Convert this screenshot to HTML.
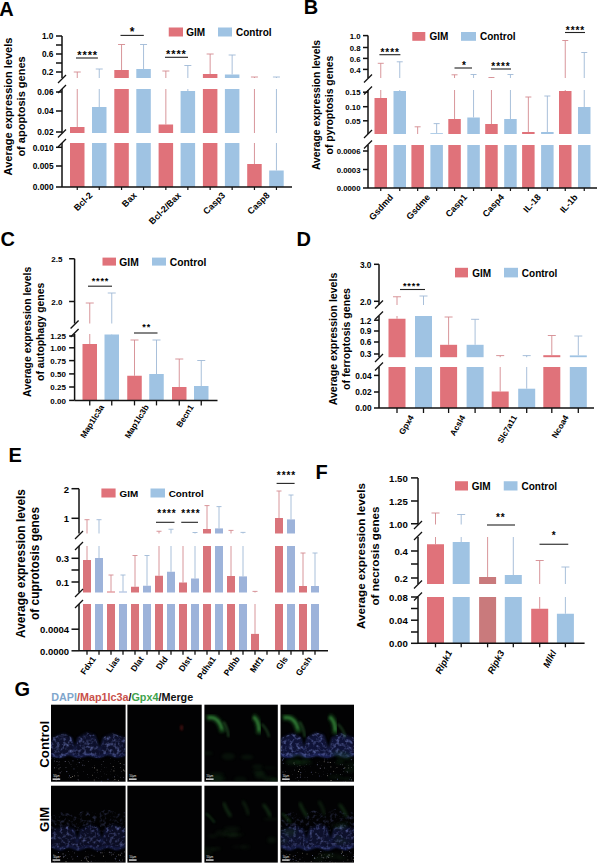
<!DOCTYPE html>
<html><head><meta charset="utf-8"><title>Figure</title>
<style>
html,body{margin:0;padding:0;background:#fff;}
svg{display:block;}
text{font-family:'Liberation Sans', Arial, sans-serif;}
</style></head>
<body>
<svg width="600" height="864" viewBox="0 0 600 864">
<rect width="600" height="864" fill="#fff"/>
<text x="-0.80" y="15.60" font-size="20" text-anchor="start" font-weight="bold" fill="#000" >A</text>
<line x1="77.25" y1="127.00" x2="77.25" y2="72.00" stroke="#d48a90" stroke-width="0.9" />
<line x1="73.75" y1="72.00" x2="80.75" y2="72.00" stroke="#d48a90" stroke-width="0.9" />
<line x1="99.25" y1="107.00" x2="99.25" y2="69.00" stroke="#9fb9d6" stroke-width="0.9" />
<line x1="95.75" y1="69.00" x2="102.75" y2="69.00" stroke="#9fb9d6" stroke-width="0.9" />
<rect x="70.00" y="127.00" width="14.50" height="60.00" fill="#e0727a" />
<rect x="92.00" y="107.00" width="14.50" height="80.00" fill="#9fc3e3" />
<line x1="121.55" y1="70.00" x2="121.55" y2="44.50" stroke="#d48a90" stroke-width="0.9" />
<line x1="118.05" y1="44.50" x2="125.05" y2="44.50" stroke="#d48a90" stroke-width="0.9" />
<line x1="143.55" y1="69.00" x2="143.55" y2="44.50" stroke="#9fb9d6" stroke-width="0.9" />
<line x1="140.05" y1="44.50" x2="147.05" y2="44.50" stroke="#9fb9d6" stroke-width="0.9" />
<rect x="114.30" y="70.00" width="14.50" height="117.00" fill="#e0727a" />
<rect x="136.30" y="69.00" width="14.50" height="118.00" fill="#9fc3e3" />
<line x1="165.85" y1="124.50" x2="165.85" y2="71.00" stroke="#d48a90" stroke-width="0.9" />
<line x1="162.35" y1="71.00" x2="169.35" y2="71.00" stroke="#d48a90" stroke-width="0.9" />
<line x1="187.85" y1="91.00" x2="187.85" y2="65.50" stroke="#9fb9d6" stroke-width="0.9" />
<line x1="184.35" y1="65.50" x2="191.35" y2="65.50" stroke="#9fb9d6" stroke-width="0.9" />
<rect x="158.60" y="124.50" width="14.50" height="62.50" fill="#e0727a" />
<rect x="180.60" y="91.00" width="14.50" height="96.00" fill="#9fc3e3" />
<line x1="210.15" y1="74.00" x2="210.15" y2="54.00" stroke="#d48a90" stroke-width="0.9" />
<line x1="206.65" y1="54.00" x2="213.65" y2="54.00" stroke="#d48a90" stroke-width="0.9" />
<line x1="232.15" y1="74.50" x2="232.15" y2="55.00" stroke="#9fb9d6" stroke-width="0.9" />
<line x1="228.65" y1="55.00" x2="235.65" y2="55.00" stroke="#9fb9d6" stroke-width="0.9" />
<rect x="202.90" y="74.00" width="14.50" height="113.00" fill="#e0727a" />
<rect x="224.90" y="74.50" width="14.50" height="112.50" fill="#9fc3e3" />
<line x1="254.45" y1="164.00" x2="254.45" y2="77.00" stroke="#d48a90" stroke-width="0.9" />
<line x1="250.95" y1="77.00" x2="257.95" y2="77.00" stroke="#d48a90" stroke-width="0.9" />
<line x1="276.45" y1="170.50" x2="276.45" y2="77.00" stroke="#9fb9d6" stroke-width="0.9" />
<line x1="272.95" y1="77.00" x2="279.95" y2="77.00" stroke="#9fb9d6" stroke-width="0.9" />
<rect x="247.20" y="164.00" width="14.50" height="23.00" fill="#e0727a" />
<rect x="269.20" y="170.50" width="14.50" height="16.50" fill="#9fc3e3" />
<rect x="63.00" y="78.00" width="237.00" height="11.00" fill="#fff" />
<rect x="63.00" y="133.00" width="237.00" height="10.00" fill="#fff" />
<line x1="62.00" y1="36.00" x2="62.00" y2="78.00" stroke="#111" stroke-width="1.5" />
<line x1="62.00" y1="89.00" x2="62.00" y2="133.00" stroke="#111" stroke-width="1.5" />
<line x1="62.00" y1="143.00" x2="62.00" y2="187.00" stroke="#111" stroke-width="1.5" />
<line x1="56.00" y1="36.00" x2="62.00" y2="36.00" stroke="#111" stroke-width="1.5" />
<text x="53.50" y="39.40" font-size="8.3" text-anchor="end" font-weight="bold" fill="#000" >1.0</text>
<line x1="56.00" y1="45.00" x2="62.00" y2="45.00" stroke="#111" stroke-width="1.5" />
<line x1="56.00" y1="54.00" x2="62.00" y2="54.00" stroke="#111" stroke-width="1.5" />
<text x="53.50" y="57.40" font-size="8.3" text-anchor="end" font-weight="bold" fill="#000" >0.6</text>
<line x1="56.00" y1="63.00" x2="62.00" y2="63.00" stroke="#111" stroke-width="1.5" />
<line x1="56.00" y1="72.00" x2="62.00" y2="72.00" stroke="#111" stroke-width="1.5" />
<text x="53.50" y="75.40" font-size="8.3" text-anchor="end" font-weight="bold" fill="#000" >0.2</text>
<line x1="56.00" y1="92.00" x2="62.00" y2="92.00" stroke="#111" stroke-width="1.5" />
<text x="53.50" y="95.40" font-size="8.3" text-anchor="end" font-weight="bold" fill="#000" >0.06</text>
<line x1="56.00" y1="111.00" x2="62.00" y2="111.00" stroke="#111" stroke-width="1.5" />
<text x="53.50" y="114.40" font-size="8.3" text-anchor="end" font-weight="bold" fill="#000" >0.04</text>
<line x1="56.00" y1="132.00" x2="62.00" y2="132.00" stroke="#111" stroke-width="1.5" />
<text x="53.50" y="135.40" font-size="8.3" text-anchor="end" font-weight="bold" fill="#000" >0.02</text>
<line x1="56.00" y1="147.30" x2="62.00" y2="147.30" stroke="#111" stroke-width="1.5" />
<text x="53.50" y="150.70" font-size="8.3" text-anchor="end" font-weight="bold" fill="#000" >0.010</text>
<line x1="56.00" y1="166.00" x2="62.00" y2="166.00" stroke="#111" stroke-width="1.5" />
<text x="53.50" y="169.40" font-size="8.3" text-anchor="end" font-weight="bold" fill="#000" >0.005</text>
<line x1="56.00" y1="187.00" x2="62.00" y2="187.00" stroke="#111" stroke-width="1.5" />
<text x="53.50" y="190.40" font-size="8.3" text-anchor="end" font-weight="bold" fill="#000" >0.000</text>
<line x1="58.00" y1="83.00" x2="66.00" y2="75.00" stroke="#111" stroke-width="1.3" />
<line x1="58.00" y1="93.00" x2="66.00" y2="85.00" stroke="#111" stroke-width="1.3" />
<line x1="58.00" y1="137.50" x2="66.00" y2="129.50" stroke="#111" stroke-width="1.3" />
<line x1="58.00" y1="147.00" x2="66.00" y2="139.00" stroke="#111" stroke-width="1.3" />
<line x1="62.00" y1="187.00" x2="292.00" y2="187.00" stroke="#111" stroke-width="1.5" />
<line x1="77.25" y1="187.00" x2="77.25" y2="190.00" stroke="#111" stroke-width="1.2" />
<line x1="99.25" y1="187.00" x2="99.25" y2="190.00" stroke="#111" stroke-width="1.2" />
<line x1="121.55" y1="187.00" x2="121.55" y2="190.00" stroke="#111" stroke-width="1.2" />
<line x1="143.55" y1="187.00" x2="143.55" y2="190.00" stroke="#111" stroke-width="1.2" />
<line x1="165.85" y1="187.00" x2="165.85" y2="190.00" stroke="#111" stroke-width="1.2" />
<line x1="187.85" y1="187.00" x2="187.85" y2="190.00" stroke="#111" stroke-width="1.2" />
<line x1="210.15" y1="187.00" x2="210.15" y2="190.00" stroke="#111" stroke-width="1.2" />
<line x1="232.15" y1="187.00" x2="232.15" y2="190.00" stroke="#111" stroke-width="1.2" />
<line x1="254.45" y1="187.00" x2="254.45" y2="190.00" stroke="#111" stroke-width="1.2" />
<line x1="276.45" y1="187.00" x2="276.45" y2="190.00" stroke="#111" stroke-width="1.2" />
<text x="87.70" y="59.28" font-size="11" text-anchor="middle" font-weight="bold" fill="#000" letter-spacing="0.9">****</text>
<line x1="76.00" y1="58.00" x2="97.90" y2="58.00" stroke="#222" stroke-width="1.1" />
<text x="132.45" y="36.16" font-size="12" text-anchor="middle" font-weight="bold" fill="#000" letter-spacing="0.9">*</text>
<line x1="120.50" y1="35.40" x2="143.80" y2="35.40" stroke="#222" stroke-width="1.1" />
<text x="176.45" y="58.48" font-size="11" text-anchor="middle" font-weight="bold" fill="#000" letter-spacing="0.9">****</text>
<line x1="165.00" y1="57.30" x2="188.00" y2="57.30" stroke="#222" stroke-width="1.1" />
<rect x="168.75" y="27.50" width="14.25" height="9.00" fill="#e0727a" />
<text x="186.20" y="36.20" font-size="10" text-anchor="start" font-weight="bold" fill="#000" >GIM</text>
<rect x="218.00" y="27.50" width="14.00" height="9.00" fill="#9fc3e3" />
<text x="236.00" y="36.20" font-size="10" text-anchor="start" font-weight="bold" fill="#000" >Control</text>
<text x="12.30" y="106.50" font-size="11" text-anchor="middle" font-weight="bold" fill="#000" transform="rotate(-90 12.30 106.50)" >Average expression levels</text>
<text x="25.30" y="106.50" font-size="11" text-anchor="middle" font-weight="bold" fill="#000" transform="rotate(-90 25.30 106.50)" >of apoptosis genes</text>
<text x="93.00" y="196.00" font-size="9" text-anchor="end" font-weight="bold" fill="#000" transform="rotate(-45 93.00 196.00)" >Bcl-2</text>
<text x="137.30" y="196.00" font-size="9" text-anchor="end" font-weight="bold" fill="#000" transform="rotate(-45 137.30 196.00)" >Bax</text>
<text x="181.60" y="196.00" font-size="9" text-anchor="end" font-weight="bold" fill="#000" transform="rotate(-45 181.60 196.00)" >Bcl-2/Bax</text>
<text x="225.90" y="196.00" font-size="9" text-anchor="end" font-weight="bold" fill="#000" transform="rotate(-45 225.90 196.00)" >Casp3</text>
<text x="270.20" y="196.00" font-size="9" text-anchor="end" font-weight="bold" fill="#000" transform="rotate(-45 270.20 196.00)" >Casp8</text>
<text x="303.80" y="14.20" font-size="20" text-anchor="start" font-weight="bold" fill="#000" >B</text>
<line x1="380.75" y1="98.00" x2="380.75" y2="63.30" stroke="#d48a90" stroke-width="0.9" />
<line x1="377.75" y1="63.30" x2="383.75" y2="63.30" stroke="#d48a90" stroke-width="0.9" />
<line x1="399.75" y1="91.00" x2="399.75" y2="61.80" stroke="#9fb9d6" stroke-width="0.9" />
<line x1="396.75" y1="61.80" x2="402.75" y2="61.80" stroke="#9fb9d6" stroke-width="0.9" />
<rect x="374.50" y="98.00" width="12.50" height="90.00" fill="#e0727a" />
<rect x="393.50" y="91.00" width="12.50" height="97.00" fill="#9fc3e3" />
<line x1="417.65" y1="134.00" x2="417.65" y2="126.80" stroke="#d48a90" stroke-width="0.9" />
<line x1="414.65" y1="126.80" x2="420.65" y2="126.80" stroke="#d48a90" stroke-width="0.9" />
<line x1="436.65" y1="133.20" x2="436.65" y2="123.60" stroke="#9fb9d6" stroke-width="0.9" />
<line x1="433.65" y1="123.60" x2="439.65" y2="123.60" stroke="#9fb9d6" stroke-width="0.9" />
<rect x="411.40" y="134.00" width="12.50" height="54.00" fill="#e0727a" />
<rect x="430.40" y="133.20" width="12.50" height="54.80" fill="#9fc3e3" />
<line x1="454.55" y1="119.00" x2="454.55" y2="74.80" stroke="#d48a90" stroke-width="0.9" />
<line x1="451.55" y1="74.80" x2="457.55" y2="74.80" stroke="#d48a90" stroke-width="0.9" />
<line x1="473.55" y1="117.50" x2="473.55" y2="74.50" stroke="#9fb9d6" stroke-width="0.9" />
<line x1="470.55" y1="74.50" x2="476.55" y2="74.50" stroke="#9fb9d6" stroke-width="0.9" />
<rect x="448.30" y="119.00" width="12.50" height="69.00" fill="#e0727a" />
<rect x="467.30" y="117.50" width="12.50" height="70.50" fill="#9fc3e3" />
<line x1="491.45" y1="124.00" x2="491.45" y2="77.50" stroke="#d48a90" stroke-width="0.9" />
<line x1="488.45" y1="77.50" x2="494.45" y2="77.50" stroke="#d48a90" stroke-width="0.9" />
<line x1="510.45" y1="119.00" x2="510.45" y2="74.50" stroke="#9fb9d6" stroke-width="0.9" />
<line x1="507.45" y1="74.50" x2="513.45" y2="74.50" stroke="#9fb9d6" stroke-width="0.9" />
<rect x="485.20" y="124.00" width="12.50" height="64.00" fill="#e0727a" />
<rect x="504.20" y="119.00" width="12.50" height="69.00" fill="#9fc3e3" />
<line x1="528.35" y1="132.00" x2="528.35" y2="97.00" stroke="#d48a90" stroke-width="0.9" />
<line x1="525.35" y1="97.00" x2="531.35" y2="97.00" stroke="#d48a90" stroke-width="0.9" />
<line x1="547.35" y1="132.00" x2="547.35" y2="96.00" stroke="#9fb9d6" stroke-width="0.9" />
<line x1="544.35" y1="96.00" x2="550.35" y2="96.00" stroke="#9fb9d6" stroke-width="0.9" />
<rect x="522.10" y="132.00" width="12.50" height="56.00" fill="#e0727a" />
<rect x="541.10" y="132.00" width="12.50" height="56.00" fill="#9fc3e3" />
<line x1="565.25" y1="91.00" x2="565.25" y2="40.50" stroke="#d48a90" stroke-width="0.9" />
<line x1="562.25" y1="40.50" x2="568.25" y2="40.50" stroke="#d48a90" stroke-width="0.9" />
<line x1="584.25" y1="107.00" x2="584.25" y2="52.50" stroke="#9fb9d6" stroke-width="0.9" />
<line x1="581.25" y1="52.50" x2="587.25" y2="52.50" stroke="#9fb9d6" stroke-width="0.9" />
<rect x="559.00" y="91.00" width="12.50" height="97.00" fill="#e0727a" />
<rect x="578.00" y="107.00" width="12.50" height="81.00" fill="#9fc3e3" />
<rect x="369.00" y="78.00" width="231.00" height="12.00" fill="#fff" />
<rect x="369.00" y="134.00" width="231.00" height="11.00" fill="#fff" />
<line x1="368.00" y1="35.60" x2="368.00" y2="78.00" stroke="#111" stroke-width="1.5" />
<line x1="368.00" y1="90.00" x2="368.00" y2="134.00" stroke="#111" stroke-width="1.5" />
<line x1="368.00" y1="145.00" x2="368.00" y2="188.00" stroke="#111" stroke-width="1.5" />
<line x1="363.00" y1="35.60" x2="368.00" y2="35.60" stroke="#111" stroke-width="1.5" />
<text x="360.50" y="38.80" font-size="7.8" text-anchor="end" font-weight="bold" fill="#000" >1.0</text>
<line x1="363.00" y1="47.50" x2="368.00" y2="47.50" stroke="#111" stroke-width="1.5" />
<text x="360.50" y="50.70" font-size="7.8" text-anchor="end" font-weight="bold" fill="#000" >0.8</text>
<line x1="363.00" y1="58.40" x2="368.00" y2="58.40" stroke="#111" stroke-width="1.5" />
<text x="360.50" y="61.60" font-size="7.8" text-anchor="end" font-weight="bold" fill="#000" >0.6</text>
<line x1="363.00" y1="69.40" x2="368.00" y2="69.40" stroke="#111" stroke-width="1.5" />
<text x="360.50" y="72.60" font-size="7.8" text-anchor="end" font-weight="bold" fill="#000" >0.4</text>
<line x1="363.00" y1="92.20" x2="368.00" y2="92.20" stroke="#111" stroke-width="1.5" />
<text x="360.50" y="95.40" font-size="7.8" text-anchor="end" font-weight="bold" fill="#000" >0.15</text>
<line x1="363.00" y1="106.70" x2="368.00" y2="106.70" stroke="#111" stroke-width="1.5" />
<text x="360.50" y="109.90" font-size="7.8" text-anchor="end" font-weight="bold" fill="#000" >0.10</text>
<line x1="363.00" y1="120.80" x2="368.00" y2="120.80" stroke="#111" stroke-width="1.5" />
<text x="360.50" y="124.00" font-size="7.8" text-anchor="end" font-weight="bold" fill="#000" >0.05</text>
<line x1="363.00" y1="151.00" x2="368.00" y2="151.00" stroke="#111" stroke-width="1.5" />
<text x="360.50" y="154.20" font-size="7.8" text-anchor="end" font-weight="bold" fill="#000" >0.0006</text>
<line x1="363.00" y1="169.50" x2="368.00" y2="169.50" stroke="#111" stroke-width="1.5" />
<text x="360.50" y="172.70" font-size="7.8" text-anchor="end" font-weight="bold" fill="#000" >0.0003</text>
<line x1="363.00" y1="188.00" x2="368.00" y2="188.00" stroke="#111" stroke-width="1.5" />
<text x="360.50" y="191.20" font-size="7.8" text-anchor="end" font-weight="bold" fill="#000" >0.0000</text>
<line x1="364.00" y1="82.50" x2="372.00" y2="74.50" stroke="#111" stroke-width="1.3" />
<line x1="364.00" y1="94.50" x2="372.00" y2="86.50" stroke="#111" stroke-width="1.3" />
<line x1="364.00" y1="138.00" x2="372.00" y2="130.00" stroke="#111" stroke-width="1.3" />
<line x1="364.00" y1="148.50" x2="372.00" y2="140.50" stroke="#111" stroke-width="1.3" />
<line x1="368.00" y1="188.00" x2="597.00" y2="188.00" stroke="#111" stroke-width="1.5" />
<line x1="380.75" y1="188.00" x2="380.75" y2="191.00" stroke="#111" stroke-width="1.2" />
<line x1="399.75" y1="188.00" x2="399.75" y2="191.00" stroke="#111" stroke-width="1.2" />
<line x1="417.65" y1="188.00" x2="417.65" y2="191.00" stroke="#111" stroke-width="1.2" />
<line x1="436.65" y1="188.00" x2="436.65" y2="191.00" stroke="#111" stroke-width="1.2" />
<line x1="454.55" y1="188.00" x2="454.55" y2="191.00" stroke="#111" stroke-width="1.2" />
<line x1="473.55" y1="188.00" x2="473.55" y2="191.00" stroke="#111" stroke-width="1.2" />
<line x1="491.45" y1="188.00" x2="491.45" y2="191.00" stroke="#111" stroke-width="1.2" />
<line x1="510.45" y1="188.00" x2="510.45" y2="191.00" stroke="#111" stroke-width="1.2" />
<line x1="528.35" y1="188.00" x2="528.35" y2="191.00" stroke="#111" stroke-width="1.2" />
<line x1="547.35" y1="188.00" x2="547.35" y2="191.00" stroke="#111" stroke-width="1.2" />
<line x1="565.25" y1="188.00" x2="565.25" y2="191.00" stroke="#111" stroke-width="1.2" />
<line x1="584.25" y1="188.00" x2="584.25" y2="191.00" stroke="#111" stroke-width="1.2" />
<text x="390.15" y="56.20" font-size="10" text-anchor="middle" font-weight="bold" fill="#000" letter-spacing="0.9">****</text>
<line x1="379.40" y1="54.70" x2="400.40" y2="54.70" stroke="#222" stroke-width="1.1" />
<text x="464.45" y="68.80" font-size="10" text-anchor="middle" font-weight="bold" fill="#000" letter-spacing="0.9">*</text>
<line x1="454.50" y1="68.00" x2="472.00" y2="68.00" stroke="#222" stroke-width="1.1" />
<text x="500.95" y="70.30" font-size="10" text-anchor="middle" font-weight="bold" fill="#000" letter-spacing="0.9">****</text>
<line x1="491.00" y1="69.00" x2="511.00" y2="69.00" stroke="#222" stroke-width="1.1" />
<text x="575.45" y="33.80" font-size="10" text-anchor="middle" font-weight="bold" fill="#000" letter-spacing="0.9">****</text>
<line x1="565.00" y1="32.50" x2="585.00" y2="32.50" stroke="#222" stroke-width="1.1" />
<rect x="412.30" y="32.00" width="13.00" height="8.80" fill="#e0727a" />
<text x="429.50" y="40.00" font-size="10" text-anchor="start" font-weight="bold" fill="#000" >GIM</text>
<rect x="461.00" y="32.00" width="15.00" height="8.80" fill="#9fc3e3" />
<text x="480.00" y="40.00" font-size="10" text-anchor="start" font-weight="bold" fill="#000" >Control</text>
<text x="319.50" y="105.00" font-size="10.4" text-anchor="middle" font-weight="bold" fill="#000" transform="rotate(-90 319.50 105.00)" >Average expression levels</text>
<text x="332.50" y="105.00" font-size="10.4" text-anchor="middle" font-weight="bold" fill="#000" transform="rotate(-90 332.50 105.00)" >of pyroptosis genes</text>
<text x="393.80" y="197.60" font-size="9" text-anchor="end" font-weight="bold" fill="#000" transform="rotate(-48 393.80 197.60)" >Gsdmd</text>
<text x="430.70" y="197.60" font-size="9" text-anchor="end" font-weight="bold" fill="#000" transform="rotate(-48 430.70 197.60)" >Gsdme</text>
<text x="467.60" y="197.60" font-size="9" text-anchor="end" font-weight="bold" fill="#000" transform="rotate(-48 467.60 197.60)" >Casp1</text>
<text x="504.50" y="197.60" font-size="9" text-anchor="end" font-weight="bold" fill="#000" transform="rotate(-48 504.50 197.60)" >Casp4</text>
<text x="541.40" y="197.60" font-size="9" text-anchor="end" font-weight="bold" fill="#000" transform="rotate(-48 541.40 197.60)" >IL-18</text>
<text x="578.30" y="197.60" font-size="9" text-anchor="end" font-weight="bold" fill="#000" transform="rotate(-48 578.30 197.60)" >IL-1b</text>
<text x="0.50" y="245.50" font-size="20" text-anchor="start" font-weight="bold" fill="#000" >C</text>
<line x1="89.75" y1="344.00" x2="89.75" y2="303.00" stroke="#d48a90" stroke-width="0.9" />
<line x1="85.75" y1="303.00" x2="93.75" y2="303.00" stroke="#d48a90" stroke-width="0.9" />
<line x1="111.75" y1="334.50" x2="111.75" y2="293.00" stroke="#9fb9d6" stroke-width="0.9" />
<line x1="107.75" y1="293.00" x2="115.75" y2="293.00" stroke="#9fb9d6" stroke-width="0.9" />
<rect x="82.50" y="344.00" width="14.50" height="56.40" fill="#e0727a" />
<rect x="104.50" y="334.50" width="14.50" height="65.90" fill="#9fc3e3" />
<line x1="134.50" y1="375.75" x2="134.50" y2="340.00" stroke="#d48a90" stroke-width="0.9" />
<line x1="130.50" y1="340.00" x2="138.50" y2="340.00" stroke="#d48a90" stroke-width="0.9" />
<line x1="156.50" y1="374.00" x2="156.50" y2="340.00" stroke="#9fb9d6" stroke-width="0.9" />
<line x1="152.50" y1="340.00" x2="160.50" y2="340.00" stroke="#9fb9d6" stroke-width="0.9" />
<rect x="127.25" y="375.75" width="14.50" height="24.65" fill="#e0727a" />
<rect x="149.25" y="374.00" width="14.50" height="26.40" fill="#9fc3e3" />
<line x1="179.25" y1="387.00" x2="179.25" y2="359.00" stroke="#d48a90" stroke-width="0.9" />
<line x1="175.25" y1="359.00" x2="183.25" y2="359.00" stroke="#d48a90" stroke-width="0.9" />
<line x1="201.25" y1="386.00" x2="201.25" y2="360.50" stroke="#9fb9d6" stroke-width="0.9" />
<line x1="197.25" y1="360.50" x2="205.25" y2="360.50" stroke="#9fb9d6" stroke-width="0.9" />
<rect x="172.00" y="387.00" width="14.50" height="13.40" fill="#e0727a" />
<rect x="194.00" y="386.00" width="14.50" height="14.40" fill="#9fc3e3" />
<rect x="75.60" y="323.50" width="154.40" height="10.50" fill="#fff" />
<line x1="74.60" y1="258.75" x2="74.60" y2="323.50" stroke="#111" stroke-width="1.5" />
<line x1="74.60" y1="334.00" x2="74.60" y2="400.40" stroke="#111" stroke-width="1.5" />
<line x1="69.10" y1="258.75" x2="74.60" y2="258.75" stroke="#111" stroke-width="1.5" />
<text x="62.40" y="262.03" font-size="8.0" text-anchor="end" font-weight="bold" fill="#000" >2.5</text>
<line x1="69.10" y1="301.50" x2="74.60" y2="301.50" stroke="#111" stroke-width="1.5" />
<text x="62.40" y="304.78" font-size="8.0" text-anchor="end" font-weight="bold" fill="#000" >2.0</text>
<line x1="69.10" y1="336.00" x2="74.60" y2="336.00" stroke="#111" stroke-width="1.5" />
<text x="65.90" y="339.28" font-size="8.0" text-anchor="end" font-weight="bold" fill="#000" >1.25</text>
<line x1="69.10" y1="347.80" x2="74.60" y2="347.80" stroke="#111" stroke-width="1.5" />
<text x="65.90" y="351.08" font-size="8.0" text-anchor="end" font-weight="bold" fill="#000" >1.00</text>
<line x1="69.10" y1="360.60" x2="74.60" y2="360.60" stroke="#111" stroke-width="1.5" />
<text x="65.90" y="363.88" font-size="8.0" text-anchor="end" font-weight="bold" fill="#000" >0.75</text>
<line x1="69.10" y1="373.90" x2="74.60" y2="373.90" stroke="#111" stroke-width="1.5" />
<text x="65.90" y="377.18" font-size="8.0" text-anchor="end" font-weight="bold" fill="#000" >0.50</text>
<line x1="69.10" y1="387.00" x2="74.60" y2="387.00" stroke="#111" stroke-width="1.5" />
<text x="65.90" y="390.28" font-size="8.0" text-anchor="end" font-weight="bold" fill="#000" >0.25</text>
<line x1="69.10" y1="400.40" x2="74.60" y2="400.40" stroke="#111" stroke-width="1.5" />
<text x="65.90" y="403.68" font-size="8.0" text-anchor="end" font-weight="bold" fill="#000" >0.00</text>
<line x1="70.60" y1="328.50" x2="78.60" y2="320.50" stroke="#111" stroke-width="1.3" />
<line x1="70.60" y1="337.00" x2="78.60" y2="329.00" stroke="#111" stroke-width="1.3" />
<line x1="74.60" y1="400.40" x2="217.50" y2="400.40" stroke="#111" stroke-width="1.5" />
<line x1="89.75" y1="400.40" x2="89.75" y2="405.40" stroke="#111" stroke-width="1.3" />
<line x1="111.75" y1="400.40" x2="111.75" y2="405.40" stroke="#111" stroke-width="1.3" />
<line x1="134.50" y1="400.40" x2="134.50" y2="405.40" stroke="#111" stroke-width="1.3" />
<line x1="156.50" y1="400.40" x2="156.50" y2="405.40" stroke="#111" stroke-width="1.3" />
<line x1="179.25" y1="400.40" x2="179.25" y2="405.40" stroke="#111" stroke-width="1.3" />
<line x1="201.25" y1="400.40" x2="201.25" y2="405.40" stroke="#111" stroke-width="1.3" />
<text x="100.45" y="284.12" font-size="9" text-anchor="middle" font-weight="bold" fill="#000" letter-spacing="0.9">****</text>
<line x1="88.00" y1="286.20" x2="112.00" y2="286.20" stroke="#222" stroke-width="1.1" />
<text x="146.75" y="329.82" font-size="9" text-anchor="middle" font-weight="bold" fill="#000" letter-spacing="0.9">**</text>
<line x1="134.00" y1="333.00" x2="157.50" y2="333.00" stroke="#222" stroke-width="1.1" />
<rect x="102.50" y="257.60" width="13.50" height="8.00" fill="#e0727a" />
<text x="119.30" y="265.90" font-size="10.3" text-anchor="start" font-weight="bold" fill="#000" >GIM</text>
<rect x="152.00" y="257.60" width="14.00" height="8.00" fill="#9fc3e3" />
<text x="169.80" y="265.90" font-size="10.3" text-anchor="start" font-weight="bold" fill="#000" >Control</text>
<text x="31.00" y="331.80" font-size="10.4" text-anchor="middle" font-weight="bold" fill="#000" transform="rotate(-90 31.00 331.80)" >Average expression levels</text>
<text x="44.50" y="331.80" font-size="10.4" text-anchor="middle" font-weight="bold" fill="#000" transform="rotate(-90 44.50 331.80)" >of autophagy genes</text>
<text x="104.50" y="407.00" font-size="8.3" text-anchor="end" font-weight="bold" fill="#000" transform="rotate(-58 104.50 407.00)" >Map1lc3a</text>
<text x="149.25" y="407.00" font-size="8.3" text-anchor="end" font-weight="bold" fill="#000" transform="rotate(-58 149.25 407.00)" >Map1lc3b</text>
<text x="194.00" y="407.00" font-size="8.3" text-anchor="end" font-weight="bold" fill="#000" transform="rotate(-58 194.00 407.00)" >Becn1</text>
<text x="296.50" y="245.70" font-size="20" text-anchor="start" font-weight="bold" fill="#000" >D</text>
<line x1="397.00" y1="318.75" x2="397.00" y2="296.75" stroke="#d48a90" stroke-width="0.9" />
<line x1="393.00" y1="296.75" x2="401.00" y2="296.75" stroke="#d48a90" stroke-width="0.9" />
<line x1="423.50" y1="316.00" x2="423.50" y2="296.00" stroke="#9fb9d6" stroke-width="0.9" />
<line x1="419.50" y1="296.00" x2="427.50" y2="296.00" stroke="#9fb9d6" stroke-width="0.9" />
<rect x="388.50" y="318.75" width="17.00" height="89.25" fill="#e0727a" />
<rect x="415.00" y="316.00" width="17.00" height="92.00" fill="#9fc3e3" />
<line x1="448.60" y1="344.80" x2="448.60" y2="317.00" stroke="#d48a90" stroke-width="0.9" />
<line x1="444.60" y1="317.00" x2="452.60" y2="317.00" stroke="#d48a90" stroke-width="0.9" />
<line x1="475.10" y1="344.80" x2="475.10" y2="319.30" stroke="#9fb9d6" stroke-width="0.9" />
<line x1="471.10" y1="319.30" x2="479.10" y2="319.30" stroke="#9fb9d6" stroke-width="0.9" />
<rect x="440.10" y="344.80" width="17.00" height="63.20" fill="#e0727a" />
<rect x="466.60" y="344.80" width="17.00" height="63.20" fill="#9fc3e3" />
<line x1="500.20" y1="391.50" x2="500.20" y2="355.60" stroke="#d48a90" stroke-width="0.9" />
<line x1="496.20" y1="355.60" x2="504.20" y2="355.60" stroke="#d48a90" stroke-width="0.9" />
<line x1="526.70" y1="388.70" x2="526.70" y2="355.60" stroke="#9fb9d6" stroke-width="0.9" />
<line x1="522.70" y1="355.60" x2="530.70" y2="355.60" stroke="#9fb9d6" stroke-width="0.9" />
<rect x="491.70" y="391.50" width="17.00" height="16.50" fill="#e0727a" />
<rect x="518.20" y="388.70" width="17.00" height="19.30" fill="#9fc3e3" />
<line x1="551.80" y1="355.20" x2="551.80" y2="335.50" stroke="#d48a90" stroke-width="0.9" />
<line x1="547.80" y1="335.50" x2="555.80" y2="335.50" stroke="#d48a90" stroke-width="0.9" />
<line x1="578.30" y1="355.40" x2="578.30" y2="336.00" stroke="#9fb9d6" stroke-width="0.9" />
<line x1="574.30" y1="336.00" x2="582.30" y2="336.00" stroke="#9fb9d6" stroke-width="0.9" />
<rect x="543.30" y="355.20" width="17.00" height="52.80" fill="#e0727a" />
<rect x="569.80" y="355.40" width="17.00" height="52.60" fill="#9fc3e3" />
<rect x="380.00" y="305.00" width="220.00" height="11.00" fill="#fff" />
<rect x="380.00" y="357.20" width="220.00" height="9.80" fill="#fff" />
<line x1="379.00" y1="264.30" x2="379.00" y2="305.00" stroke="#111" stroke-width="1.5" />
<line x1="379.00" y1="316.00" x2="379.00" y2="357.20" stroke="#111" stroke-width="1.5" />
<line x1="379.00" y1="367.00" x2="379.00" y2="408.00" stroke="#111" stroke-width="1.5" />
<line x1="374.00" y1="264.30" x2="379.00" y2="264.30" stroke="#111" stroke-width="1.5" />
<text x="371.50" y="267.70" font-size="8.3" text-anchor="end" font-weight="bold" fill="#000" >3.0</text>
<line x1="374.00" y1="301.30" x2="379.00" y2="301.30" stroke="#111" stroke-width="1.5" />
<text x="371.50" y="304.70" font-size="8.3" text-anchor="end" font-weight="bold" fill="#000" >2.0</text>
<line x1="374.00" y1="320.20" x2="379.00" y2="320.20" stroke="#111" stroke-width="1.5" />
<text x="371.50" y="323.60" font-size="8.3" text-anchor="end" font-weight="bold" fill="#000" >1.2</text>
<line x1="374.00" y1="331.00" x2="379.00" y2="331.00" stroke="#111" stroke-width="1.5" />
<text x="371.50" y="334.40" font-size="8.3" text-anchor="end" font-weight="bold" fill="#000" >0.9</text>
<line x1="374.00" y1="342.00" x2="379.00" y2="342.00" stroke="#111" stroke-width="1.5" />
<text x="371.50" y="345.40" font-size="8.3" text-anchor="end" font-weight="bold" fill="#000" >0.6</text>
<line x1="374.00" y1="354.00" x2="379.00" y2="354.00" stroke="#111" stroke-width="1.5" />
<text x="371.50" y="357.40" font-size="8.3" text-anchor="end" font-weight="bold" fill="#000" >0.3</text>
<line x1="374.00" y1="375.40" x2="379.00" y2="375.40" stroke="#111" stroke-width="1.5" />
<text x="371.50" y="378.80" font-size="8.3" text-anchor="end" font-weight="bold" fill="#000" >0.04</text>
<line x1="374.00" y1="392.00" x2="379.00" y2="392.00" stroke="#111" stroke-width="1.5" />
<text x="371.50" y="395.40" font-size="8.3" text-anchor="end" font-weight="bold" fill="#000" >0.02</text>
<line x1="374.00" y1="408.00" x2="379.00" y2="408.00" stroke="#111" stroke-width="1.5" />
<text x="371.50" y="411.40" font-size="8.3" text-anchor="end" font-weight="bold" fill="#000" >0.00</text>
<line x1="375.00" y1="308.50" x2="383.00" y2="300.50" stroke="#111" stroke-width="1.3" />
<line x1="375.00" y1="319.50" x2="383.00" y2="311.50" stroke="#111" stroke-width="1.3" />
<line x1="375.00" y1="362.00" x2="383.00" y2="354.00" stroke="#111" stroke-width="1.3" />
<line x1="375.00" y1="370.50" x2="383.00" y2="362.50" stroke="#111" stroke-width="1.3" />
<line x1="379.00" y1="408.00" x2="594.00" y2="408.00" stroke="#111" stroke-width="1.5" />
<line x1="397.00" y1="408.00" x2="397.00" y2="413.00" stroke="#111" stroke-width="1.3" />
<line x1="423.50" y1="408.00" x2="423.50" y2="413.00" stroke="#111" stroke-width="1.3" />
<line x1="448.60" y1="408.00" x2="448.60" y2="413.00" stroke="#111" stroke-width="1.3" />
<line x1="475.10" y1="408.00" x2="475.10" y2="413.00" stroke="#111" stroke-width="1.3" />
<line x1="500.20" y1="408.00" x2="500.20" y2="413.00" stroke="#111" stroke-width="1.3" />
<line x1="526.70" y1="408.00" x2="526.70" y2="413.00" stroke="#111" stroke-width="1.3" />
<line x1="551.80" y1="408.00" x2="551.80" y2="413.00" stroke="#111" stroke-width="1.3" />
<line x1="578.30" y1="408.00" x2="578.30" y2="413.00" stroke="#111" stroke-width="1.3" />
<text x="411.75" y="289.32" font-size="9" text-anchor="middle" font-weight="bold" fill="#000" letter-spacing="0.9">****</text>
<line x1="400.00" y1="289.50" x2="425.00" y2="289.50" stroke="#222" stroke-width="1.1" />
<rect x="455.00" y="267.80" width="13.00" height="9.60" fill="#e0727a" />
<text x="472.30" y="277.00" font-size="10" text-anchor="start" font-weight="bold" fill="#000" >GIM</text>
<rect x="504.00" y="267.80" width="14.00" height="9.60" fill="#9fc3e3" />
<text x="521.80" y="277.00" font-size="10" text-anchor="start" font-weight="bold" fill="#000" >Control</text>
<text x="336.50" y="339.00" font-size="10.6" text-anchor="middle" font-weight="bold" fill="#000" transform="rotate(-90 336.50 339.00)" >Average expression levels</text>
<text x="350.00" y="339.00" font-size="10.6" text-anchor="middle" font-weight="bold" fill="#000" transform="rotate(-90 350.00 339.00)" >of ferroptosis genes</text>
<text x="414.00" y="417.30" font-size="8.3" text-anchor="end" font-weight="bold" fill="#000" transform="rotate(-60 414.00 417.30)" >Gpx4</text>
<text x="465.60" y="417.30" font-size="8.3" text-anchor="end" font-weight="bold" fill="#000" transform="rotate(-60 465.60 417.30)" >Acsl4</text>
<text x="517.20" y="417.30" font-size="8.3" text-anchor="end" font-weight="bold" fill="#000" transform="rotate(-60 517.20 417.30)" >Slc7a11</text>
<text x="568.80" y="417.30" font-size="8.3" text-anchor="end" font-weight="bold" fill="#000" transform="rotate(-60 568.80 417.30)" >Ncoa4</text>
<text x="8.50" y="461.70" font-size="20" text-anchor="start" font-weight="bold" fill="#000" >E</text>
<line x1="87.00" y1="560.00" x2="87.00" y2="519.70" stroke="#d48a90" stroke-width="0.9" />
<line x1="84.50" y1="519.70" x2="89.50" y2="519.70" stroke="#d48a90" stroke-width="0.9" />
<line x1="99.00" y1="558.00" x2="99.00" y2="519.70" stroke="#9fb9d6" stroke-width="0.9" />
<line x1="96.50" y1="519.70" x2="101.50" y2="519.70" stroke="#9fb9d6" stroke-width="0.9" />
<rect x="83.00" y="560.00" width="8.00" height="90.80" fill="#d9747b" />
<rect x="95.00" y="558.00" width="8.00" height="92.80" fill="#9db3da" />
<line x1="111.00" y1="591.50" x2="111.00" y2="575.00" stroke="#d48a90" stroke-width="0.9" />
<line x1="108.50" y1="575.00" x2="113.50" y2="575.00" stroke="#d48a90" stroke-width="0.9" />
<line x1="123.00" y1="591.50" x2="123.00" y2="575.00" stroke="#9fb9d6" stroke-width="0.9" />
<line x1="120.50" y1="575.00" x2="125.50" y2="575.00" stroke="#9fb9d6" stroke-width="0.9" />
<rect x="107.00" y="591.50" width="8.00" height="59.30" fill="#d9747b" />
<rect x="119.00" y="591.50" width="8.00" height="59.30" fill="#9db3da" />
<line x1="135.00" y1="586.75" x2="135.00" y2="555.50" stroke="#d48a90" stroke-width="0.9" />
<line x1="132.50" y1="555.50" x2="137.50" y2="555.50" stroke="#d48a90" stroke-width="0.9" />
<line x1="147.00" y1="585.75" x2="147.00" y2="555.50" stroke="#9fb9d6" stroke-width="0.9" />
<line x1="144.50" y1="555.50" x2="149.50" y2="555.50" stroke="#9fb9d6" stroke-width="0.9" />
<rect x="131.00" y="586.75" width="8.00" height="64.05" fill="#d9747b" />
<rect x="143.00" y="585.75" width="8.00" height="65.05" fill="#9db3da" />
<line x1="159.00" y1="575.75" x2="159.00" y2="531.25" stroke="#d48a90" stroke-width="0.9" />
<line x1="156.50" y1="531.25" x2="161.50" y2="531.25" stroke="#d48a90" stroke-width="0.9" />
<line x1="171.00" y1="571.75" x2="171.00" y2="529.25" stroke="#9fb9d6" stroke-width="0.9" />
<line x1="168.50" y1="529.25" x2="173.50" y2="529.25" stroke="#9fb9d6" stroke-width="0.9" />
<rect x="155.00" y="575.75" width="8.00" height="75.05" fill="#d9747b" />
<rect x="167.00" y="571.75" width="8.00" height="79.05" fill="#9db3da" />
<line x1="183.00" y1="582.50" x2="183.00" y2="540.00" stroke="#d48a90" stroke-width="0.9" />
<line x1="180.50" y1="540.00" x2="185.50" y2="540.00" stroke="#d48a90" stroke-width="0.9" />
<line x1="195.00" y1="578.50" x2="195.00" y2="532.50" stroke="#9fb9d6" stroke-width="0.9" />
<line x1="192.50" y1="532.50" x2="197.50" y2="532.50" stroke="#9fb9d6" stroke-width="0.9" />
<rect x="179.00" y="582.50" width="8.00" height="68.30" fill="#d9747b" />
<rect x="191.00" y="578.50" width="8.00" height="72.30" fill="#9db3da" />
<line x1="207.00" y1="529.00" x2="207.00" y2="505.60" stroke="#d48a90" stroke-width="0.9" />
<line x1="204.50" y1="505.60" x2="209.50" y2="505.60" stroke="#d48a90" stroke-width="0.9" />
<line x1="219.00" y1="528.40" x2="219.00" y2="506.60" stroke="#9fb9d6" stroke-width="0.9" />
<line x1="216.50" y1="506.60" x2="221.50" y2="506.60" stroke="#9fb9d6" stroke-width="0.9" />
<rect x="203.00" y="529.00" width="8.00" height="121.80" fill="#d9747b" />
<rect x="215.00" y="528.40" width="8.00" height="122.40" fill="#9db3da" />
<line x1="231.00" y1="576.00" x2="231.00" y2="530.40" stroke="#d48a90" stroke-width="0.9" />
<line x1="228.50" y1="530.40" x2="233.50" y2="530.40" stroke="#d48a90" stroke-width="0.9" />
<line x1="243.00" y1="576.40" x2="243.00" y2="532.40" stroke="#9fb9d6" stroke-width="0.9" />
<line x1="240.50" y1="532.40" x2="245.50" y2="532.40" stroke="#9fb9d6" stroke-width="0.9" />
<rect x="227.00" y="576.00" width="8.00" height="74.80" fill="#d9747b" />
<rect x="239.00" y="576.40" width="8.00" height="74.40" fill="#9db3da" />
<line x1="255.00" y1="633.90" x2="255.00" y2="591.40" stroke="#d48a90" stroke-width="0.9" />
<line x1="252.50" y1="591.40" x2="257.50" y2="591.40" stroke="#d48a90" stroke-width="0.9" />
<rect x="251.00" y="633.90" width="8.00" height="16.90" fill="#d9747b" />
<line x1="279.00" y1="518.00" x2="279.00" y2="491.00" stroke="#d48a90" stroke-width="0.9" />
<line x1="276.50" y1="491.00" x2="281.50" y2="491.00" stroke="#d48a90" stroke-width="0.9" />
<line x1="291.00" y1="519.40" x2="291.00" y2="495.00" stroke="#9fb9d6" stroke-width="0.9" />
<line x1="288.50" y1="495.00" x2="293.50" y2="495.00" stroke="#9fb9d6" stroke-width="0.9" />
<rect x="275.00" y="518.00" width="8.00" height="132.80" fill="#d9747b" />
<rect x="287.00" y="519.40" width="8.00" height="131.40" fill="#9db3da" />
<line x1="303.00" y1="586.00" x2="303.00" y2="553.00" stroke="#d48a90" stroke-width="0.9" />
<line x1="300.50" y1="553.00" x2="305.50" y2="553.00" stroke="#d48a90" stroke-width="0.9" />
<line x1="315.00" y1="586.00" x2="315.00" y2="553.00" stroke="#9fb9d6" stroke-width="0.9" />
<line x1="312.50" y1="553.00" x2="317.50" y2="553.00" stroke="#9fb9d6" stroke-width="0.9" />
<rect x="299.00" y="586.00" width="8.00" height="64.80" fill="#d9747b" />
<rect x="311.00" y="586.00" width="8.00" height="64.80" fill="#9db3da" />
<rect x="80.00" y="533.50" width="255.00" height="12.50" fill="#fff" />
<rect x="80.00" y="592.50" width="255.00" height="11.50" fill="#fff" />
<line x1="79.00" y1="488.70" x2="79.00" y2="533.50" stroke="#111" stroke-width="1.5" />
<line x1="79.00" y1="546.00" x2="79.00" y2="592.50" stroke="#111" stroke-width="1.5" />
<line x1="79.00" y1="604.00" x2="79.00" y2="650.80" stroke="#111" stroke-width="1.5" />
<line x1="71.50" y1="488.70" x2="79.00" y2="488.70" stroke="#111" stroke-width="1.5" />
<text x="69.10" y="492.59" font-size="9.5" text-anchor="end" font-weight="bold" fill="#000" >2</text>
<line x1="71.50" y1="518.30" x2="79.00" y2="518.30" stroke="#111" stroke-width="1.5" />
<text x="69.10" y="522.19" font-size="9.5" text-anchor="end" font-weight="bold" fill="#000" >1</text>
<line x1="71.50" y1="558.30" x2="79.00" y2="558.30" stroke="#111" stroke-width="1.5" />
<text x="69.10" y="562.19" font-size="9.5" text-anchor="end" font-weight="bold" fill="#000" >0.3</text>
<line x1="71.50" y1="570.00" x2="79.00" y2="570.00" stroke="#111" stroke-width="1.5" />
<line x1="71.50" y1="582.00" x2="79.00" y2="582.00" stroke="#111" stroke-width="1.5" />
<text x="69.10" y="585.89" font-size="9.5" text-anchor="end" font-weight="bold" fill="#000" >0.1</text>
<line x1="71.50" y1="629.20" x2="79.00" y2="629.20" stroke="#111" stroke-width="1.5" />
<text x="69.10" y="633.10" font-size="9.5" text-anchor="end" font-weight="bold" fill="#000" >0.0004</text>
<line x1="71.50" y1="650.80" x2="79.00" y2="650.80" stroke="#111" stroke-width="1.5" />
<text x="69.10" y="654.69" font-size="9.5" text-anchor="end" font-weight="bold" fill="#000" >0.0000</text>
<line x1="75.00" y1="539.00" x2="83.00" y2="531.00" stroke="#111" stroke-width="1.3" />
<line x1="75.00" y1="550.00" x2="83.00" y2="542.00" stroke="#111" stroke-width="1.3" />
<line x1="75.00" y1="597.00" x2="83.00" y2="589.00" stroke="#111" stroke-width="1.3" />
<line x1="75.00" y1="608.00" x2="83.00" y2="600.00" stroke="#111" stroke-width="1.3" />
<line x1="79.00" y1="650.80" x2="328.00" y2="650.80" stroke="#111" stroke-width="1.5" />
<line x1="87.00" y1="650.80" x2="87.00" y2="654.80" stroke="#111" stroke-width="1.3" />
<line x1="99.00" y1="650.80" x2="99.00" y2="654.80" stroke="#111" stroke-width="1.3" />
<line x1="111.00" y1="650.80" x2="111.00" y2="654.80" stroke="#111" stroke-width="1.3" />
<line x1="123.00" y1="650.80" x2="123.00" y2="654.80" stroke="#111" stroke-width="1.3" />
<line x1="135.00" y1="650.80" x2="135.00" y2="654.80" stroke="#111" stroke-width="1.3" />
<line x1="147.00" y1="650.80" x2="147.00" y2="654.80" stroke="#111" stroke-width="1.3" />
<line x1="159.00" y1="650.80" x2="159.00" y2="654.80" stroke="#111" stroke-width="1.3" />
<line x1="171.00" y1="650.80" x2="171.00" y2="654.80" stroke="#111" stroke-width="1.3" />
<line x1="183.00" y1="650.80" x2="183.00" y2="654.80" stroke="#111" stroke-width="1.3" />
<line x1="195.00" y1="650.80" x2="195.00" y2="654.80" stroke="#111" stroke-width="1.3" />
<line x1="207.00" y1="650.80" x2="207.00" y2="654.80" stroke="#111" stroke-width="1.3" />
<line x1="219.00" y1="650.80" x2="219.00" y2="654.80" stroke="#111" stroke-width="1.3" />
<line x1="231.00" y1="650.80" x2="231.00" y2="654.80" stroke="#111" stroke-width="1.3" />
<line x1="243.00" y1="650.80" x2="243.00" y2="654.80" stroke="#111" stroke-width="1.3" />
<line x1="255.00" y1="650.80" x2="255.00" y2="654.80" stroke="#111" stroke-width="1.3" />
<line x1="267.00" y1="650.80" x2="267.00" y2="654.80" stroke="#111" stroke-width="1.3" />
<line x1="279.00" y1="650.80" x2="279.00" y2="654.80" stroke="#111" stroke-width="1.3" />
<line x1="291.00" y1="650.80" x2="291.00" y2="654.80" stroke="#111" stroke-width="1.3" />
<line x1="303.00" y1="650.80" x2="303.00" y2="654.80" stroke="#111" stroke-width="1.3" />
<line x1="315.00" y1="650.80" x2="315.00" y2="654.80" stroke="#111" stroke-width="1.3" />
<text x="166.95" y="517.30" font-size="10" text-anchor="middle" font-weight="bold" fill="#000" letter-spacing="0.9">****</text>
<line x1="156.00" y1="522.30" x2="174.50" y2="522.30" stroke="#222" stroke-width="1.1" />
<text x="190.95" y="517.30" font-size="10" text-anchor="middle" font-weight="bold" fill="#000" letter-spacing="0.9">****</text>
<line x1="181.25" y1="522.30" x2="198.00" y2="522.30" stroke="#222" stroke-width="1.1" />
<text x="286.45" y="479.20" font-size="10" text-anchor="middle" font-weight="bold" fill="#000" letter-spacing="0.9">****</text>
<line x1="276.60" y1="483.40" x2="294.60" y2="483.40" stroke="#222" stroke-width="1.1" />
<rect x="101.40" y="488.50" width="14.20" height="9.00" fill="#e0727a" />
<text x="119.60" y="496.80" font-size="9.9" text-anchor="start" font-weight="bold" fill="#000" >GIM</text>
<rect x="150.50" y="488.50" width="14.50" height="9.00" fill="#9fc3e3" />
<text x="168.70" y="496.80" font-size="9.9" text-anchor="start" font-weight="bold" fill="#000" >Control</text>
<text x="24.50" y="563.50" font-size="11.9" text-anchor="middle" font-weight="bold" fill="#000" transform="rotate(-90 24.50 563.50)" >Average expression levels</text>
<text x="39.00" y="563.50" font-size="11.9" text-anchor="middle" font-weight="bold" fill="#000" transform="rotate(-90 39.00 563.50)" >of cuprotosis genes</text>
<text x="96.20" y="659.00" font-size="8.5" text-anchor="end" font-weight="bold" fill="#000" transform="rotate(-55 96.20 659.00)" >Fdx1</text>
<text x="120.20" y="659.00" font-size="8.5" text-anchor="end" font-weight="bold" fill="#000" transform="rotate(-55 120.20 659.00)" >Lias</text>
<text x="144.20" y="659.00" font-size="8.5" text-anchor="end" font-weight="bold" fill="#000" transform="rotate(-55 144.20 659.00)" >Dlat</text>
<text x="168.20" y="659.00" font-size="8.5" text-anchor="end" font-weight="bold" fill="#000" transform="rotate(-55 168.20 659.00)" >Dld</text>
<text x="192.20" y="659.00" font-size="8.5" text-anchor="end" font-weight="bold" fill="#000" transform="rotate(-55 192.20 659.00)" >Dlst</text>
<text x="216.20" y="659.00" font-size="8.5" text-anchor="end" font-weight="bold" fill="#000" transform="rotate(-55 216.20 659.00)" >Pdha1</text>
<text x="240.20" y="659.00" font-size="8.5" text-anchor="end" font-weight="bold" fill="#000" transform="rotate(-55 240.20 659.00)" >Pdhb</text>
<text x="264.20" y="659.00" font-size="8.5" text-anchor="end" font-weight="bold" fill="#000" transform="rotate(-55 264.20 659.00)" >Mtf1</text>
<text x="288.20" y="659.00" font-size="8.5" text-anchor="end" font-weight="bold" fill="#000" transform="rotate(-55 288.20 659.00)" >Gls</text>
<text x="312.20" y="659.00" font-size="8.5" text-anchor="end" font-weight="bold" fill="#000" transform="rotate(-55 312.20 659.00)" >Gcsh</text>
<text x="315.50" y="478.70" font-size="20" text-anchor="start" font-weight="bold" fill="#000" >F</text>
<line x1="435.50" y1="544.25" x2="435.50" y2="513.00" stroke="#d48a90" stroke-width="0.9" />
<line x1="431.50" y1="513.00" x2="439.50" y2="513.00" stroke="#d48a90" stroke-width="0.9" />
<line x1="461.20" y1="542.00" x2="461.20" y2="514.50" stroke="#9fb9d6" stroke-width="0.9" />
<line x1="457.20" y1="514.50" x2="465.20" y2="514.50" stroke="#9fb9d6" stroke-width="0.9" />
<rect x="427.00" y="544.25" width="17.00" height="99.05" fill="#e0727a" />
<rect x="452.70" y="542.00" width="17.00" height="101.30" fill="#9fc3e3" />
<line x1="487.60" y1="577.00" x2="487.60" y2="530.00" stroke="#d48a90" stroke-width="0.9" />
<line x1="483.60" y1="530.00" x2="491.60" y2="530.00" stroke="#d48a90" stroke-width="0.9" />
<line x1="513.30" y1="575.00" x2="513.30" y2="530.00" stroke="#9fb9d6" stroke-width="0.9" />
<line x1="509.30" y1="530.00" x2="517.30" y2="530.00" stroke="#9fb9d6" stroke-width="0.9" />
<rect x="479.10" y="577.00" width="17.00" height="66.30" fill="#c97a7c" />
<rect x="504.80" y="575.00" width="17.00" height="68.30" fill="#9fc3e3" />
<line x1="539.70" y1="608.75" x2="539.70" y2="560.50" stroke="#d48a90" stroke-width="0.9" />
<line x1="535.70" y1="560.50" x2="543.70" y2="560.50" stroke="#d48a90" stroke-width="0.9" />
<line x1="565.40" y1="613.75" x2="565.40" y2="567.00" stroke="#9fb9d6" stroke-width="0.9" />
<line x1="561.40" y1="567.00" x2="569.40" y2="567.00" stroke="#9fb9d6" stroke-width="0.9" />
<rect x="531.20" y="608.75" width="17.00" height="34.55" fill="#e0727a" />
<rect x="556.90" y="613.75" width="17.00" height="29.55" fill="#9fc3e3" />
<rect x="419.00" y="524.50" width="181.00" height="12.50" fill="#fff" />
<rect x="419.00" y="584.00" width="181.00" height="13.00" fill="#fff" />
<line x1="418.00" y1="477.90" x2="418.00" y2="524.50" stroke="#111" stroke-width="1.5" />
<line x1="418.00" y1="537.00" x2="418.00" y2="584.00" stroke="#111" stroke-width="1.5" />
<line x1="418.00" y1="597.00" x2="418.00" y2="643.30" stroke="#111" stroke-width="1.5" />
<line x1="411.00" y1="477.90" x2="418.00" y2="477.90" stroke="#111" stroke-width="1.5" />
<text x="407.80" y="481.84" font-size="9.6" text-anchor="end" font-weight="bold" fill="#000" >1.50</text>
<line x1="411.00" y1="501.00" x2="418.00" y2="501.00" stroke="#111" stroke-width="1.5" />
<text x="407.80" y="504.94" font-size="9.6" text-anchor="end" font-weight="bold" fill="#000" >1.25</text>
<line x1="411.00" y1="523.75" x2="418.00" y2="523.75" stroke="#111" stroke-width="1.5" />
<text x="407.80" y="527.69" font-size="9.6" text-anchor="end" font-weight="bold" fill="#000" >1.00</text>
<line x1="411.00" y1="551.00" x2="418.00" y2="551.00" stroke="#111" stroke-width="1.5" />
<text x="407.80" y="554.94" font-size="9.6" text-anchor="end" font-weight="bold" fill="#000" >0.4</text>
<line x1="411.00" y1="564.00" x2="418.00" y2="564.00" stroke="#111" stroke-width="1.5" />
<line x1="411.00" y1="578.00" x2="418.00" y2="578.00" stroke="#111" stroke-width="1.5" />
<text x="407.80" y="581.94" font-size="9.6" text-anchor="end" font-weight="bold" fill="#000" >0.2</text>
<line x1="411.00" y1="597.00" x2="418.00" y2="597.00" stroke="#111" stroke-width="1.5" />
<text x="407.80" y="600.94" font-size="9.6" text-anchor="end" font-weight="bold" fill="#000" >0.08</text>
<line x1="411.00" y1="608.50" x2="418.00" y2="608.50" stroke="#111" stroke-width="1.5" />
<line x1="411.00" y1="620.20" x2="418.00" y2="620.20" stroke="#111" stroke-width="1.5" />
<text x="407.80" y="624.14" font-size="9.6" text-anchor="end" font-weight="bold" fill="#000" >0.04</text>
<line x1="411.00" y1="632.00" x2="418.00" y2="632.00" stroke="#111" stroke-width="1.5" />
<line x1="411.00" y1="643.30" x2="418.00" y2="643.30" stroke="#111" stroke-width="1.5" />
<text x="407.80" y="647.24" font-size="9.6" text-anchor="end" font-weight="bold" fill="#000" >0.00</text>
<line x1="414.00" y1="529.00" x2="422.00" y2="521.00" stroke="#111" stroke-width="1.3" />
<line x1="414.00" y1="540.00" x2="422.00" y2="532.00" stroke="#111" stroke-width="1.3" />
<line x1="414.00" y1="588.50" x2="422.00" y2="580.50" stroke="#111" stroke-width="1.3" />
<line x1="414.00" y1="600.50" x2="422.00" y2="592.50" stroke="#111" stroke-width="1.3" />
<line x1="418.00" y1="643.30" x2="584.60" y2="643.30" stroke="#111" stroke-width="1.5" />
<line x1="435.50" y1="643.30" x2="435.50" y2="647.30" stroke="#111" stroke-width="1.3" />
<line x1="461.20" y1="643.30" x2="461.20" y2="647.30" stroke="#111" stroke-width="1.3" />
<line x1="487.60" y1="643.30" x2="487.60" y2="647.30" stroke="#111" stroke-width="1.3" />
<line x1="513.30" y1="643.30" x2="513.30" y2="647.30" stroke="#111" stroke-width="1.3" />
<line x1="539.70" y1="643.30" x2="539.70" y2="647.30" stroke="#111" stroke-width="1.3" />
<line x1="565.40" y1="643.30" x2="565.40" y2="647.30" stroke="#111" stroke-width="1.3" />
<text x="500.75" y="520.80" font-size="10" text-anchor="middle" font-weight="bold" fill="#000" letter-spacing="0.9">**</text>
<line x1="487.00" y1="525.00" x2="515.00" y2="525.00" stroke="#222" stroke-width="1.1" />
<text x="554.25" y="539.30" font-size="10" text-anchor="middle" font-weight="bold" fill="#000" letter-spacing="0.9">*</text>
<line x1="539.50" y1="544.25" x2="568.25" y2="544.25" stroke="#222" stroke-width="1.1" />
<rect x="455.00" y="481.25" width="13.00" height="9.25" fill="#e0727a" />
<text x="471.80" y="490.30" font-size="10" text-anchor="start" font-weight="bold" fill="#000" >GIM</text>
<rect x="503.75" y="481.25" width="13.75" height="9.25" fill="#9fc3e3" />
<text x="521.50" y="490.30" font-size="10" text-anchor="start" font-weight="bold" fill="#000" >Control</text>
<text x="364.50" y="556.00" font-size="11.65" text-anchor="middle" font-weight="bold" fill="#000" transform="rotate(-90 364.50 556.00)" >Average expression levels</text>
<text x="378.50" y="556.00" font-size="11.65" text-anchor="middle" font-weight="bold" fill="#000" transform="rotate(-90 378.50 556.00)" >of necrosis genes</text>
<text x="452.50" y="652.50" font-size="9.3" text-anchor="end" font-weight="bold" fill="#000" font-style="italic" transform="rotate(-62 452.50 652.50)" >Ripk1</text>
<text x="504.60" y="652.50" font-size="9.3" text-anchor="end" font-weight="bold" fill="#000" font-style="italic" transform="rotate(-62 504.60 652.50)" >Ripk3</text>
<text x="556.70" y="652.50" font-size="9.3" text-anchor="end" font-weight="bold" fill="#000" font-style="italic" transform="rotate(-62 556.70 652.50)" >Mlkl</text>
<text x="14.50" y="696.20" font-size="20" text-anchor="start" font-weight="bold" fill="#000" >G</text>
<text x="51.2" y="701.3" font-size="10" font-weight="bold" textLength="142" lengthAdjust="spacingAndGlyphs"><tspan fill="#7fa6cc">DAPI</tspan><tspan fill="#c9504a">/Map1lc3a</tspan><tspan fill="#111">/</tspan><tspan fill="#3fa34d">Gpx4</tspan><tspan fill="#111">/Merge</tspan></text>
<text x="48.60" y="744.20" font-size="12.5" text-anchor="middle" font-weight="bold" fill="#000" transform="rotate(-90 48.60 744.20)" textLength="47" lengthAdjust="spacingAndGlyphs">Control</text>
<text x="48.60" y="819.40" font-size="12.5" text-anchor="middle" font-weight="bold" fill="#000" transform="rotate(-90 48.60 819.40)" textLength="25" lengthAdjust="spacingAndGlyphs">GIM</text>
<defs><filter id="b1" x="-20%" y="-20%" width="140%" height="140%"><feGaussianBlur stdDeviation="1.6"/></filter><filter id="b2" x="-20%" y="-20%" width="140%" height="140%"><feGaussianBlur stdDeviation="0.8"/></filter><filter id="b3" x="-20%" y="-20%" width="140%" height="140%"><feGaussianBlur stdDeviation="3"/></filter><filter id="nzB0" x="0" y="0" width="100%" height="100%"><feTurbulence type="fractalNoise" baseFrequency="0.3" numOctaves="2" seed="7" result="n"/><feColorMatrix in="n" type="matrix" values="0 0 0 0 0.19  0 0 0 0 0.24  0 0 0 0 0.60  1.6 0 0 0 -0.72" result="c"/><feComposite in="c" in2="SourceAlpha" operator="in" result="d"/><feGaussianBlur in="d" stdDeviation="0.35"/></filter><filter id="nzB1" x="0" y="0" width="100%" height="100%"><feTurbulence type="fractalNoise" baseFrequency="0.3" numOctaves="2" seed="11" result="n"/><feColorMatrix in="n" type="matrix" values="0 0 0 0 0.17  0 0 0 0 0.21  0 0 0 0 0.55  1.5 0 0 0 -0.72" result="c"/><feComposite in="c" in2="SourceAlpha" operator="in" result="d"/><feGaussianBlur in="d" stdDeviation="0.35"/></filter><filter id="nzS" x="0" y="0" width="100%" height="100%"><feTurbulence type="fractalNoise" baseFrequency="0.7" numOctaves="1" seed="3" result="n"/><feColorMatrix in="n" type="matrix" values="0 0 0 0 0.40  0 0 0 0 0.40  0 0 0 0 0.55  2.4 0 0 0 -1.62" result="c"/><feComposite in="c" in2="SourceAlpha" operator="in"/></filter></defs>
<clipPath id="c00"><rect x="51.00" y="704.70" width="74.60" height="77.00"/></clipPath>
<rect x="51.00" y="704.70" width="74.60" height="77.00" fill="#020203" />
<g clip-path="url(#c00)">
<polygon points="51.0,738.6 57.0,735.5 64.4,733.2 71.1,737.0 74.9,750.9 78.6,737.0 86.8,732.4 94.3,734.7 99.9,750.9 104.0,737.0 112.9,733.2 120.4,736.3 125.6,737.8 125.6,755.5 116.6,757.8 107.7,754.8 98.7,758.2 88.3,755.5 77.9,758.2 68.9,754.8 60.0,758.2 51.0,756.3" fill="#1a2260" opacity="0.44" filter="url(#b1)"/>
<polygon points="51.0,738.6 57.0,735.5 64.4,733.2 71.1,737.0 74.9,750.9 78.6,737.0 86.8,732.4 94.3,734.7 99.9,750.9 104.0,737.0 112.9,733.2 120.4,736.3 125.6,737.8 125.6,755.5 116.6,757.8 107.7,754.8 98.7,758.2 88.3,755.5 77.9,758.2 68.9,754.8 60.0,758.2 51.0,756.3" fill="#fff" filter="url(#nzB0)"/>
<path d="M125.6,754.4 L116.6,756.7 L107.7,753.6 L98.7,757.1 L88.3,754.4 L77.9,757.1 L68.9,753.6 L60.0,757.1 L51.0,755.1" fill="none" stroke="#4252b8" stroke-width="1.1" opacity="0.55" filter="url(#b2)"/>
<path d="M71.1,737.0 L74.9,750.9 L78.6,737.0" fill="none" stroke="#3a48a8" stroke-width="0.9" opacity="0.5" filter="url(#b2)"/>
<path d="M94.3,734.7 L99.9,750.9 L104.0,737.0" fill="none" stroke="#3a48a8" stroke-width="0.9" opacity="0.5" filter="url(#b2)"/>
<rect x="51.0" y="758.2" width="74.6" height="23.5" fill="#fff" filter="url(#nzS)"/>
<rect x="114.0" y="776.0" width="0.9" height="0.9" fill="#9aa0d0" opacity="0.37"/>
<rect x="123.0" y="769.6" width="0.9" height="0.9" fill="#c0b8a8" opacity="0.79"/>
<rect x="77.7" y="779.2" width="0.9" height="0.9" fill="#a09ab8" opacity="0.58"/>
<rect x="72.0" y="776.0" width="0.9" height="0.9" fill="#b8b0a0" opacity="0.71"/>
<rect x="124.6" y="770.7" width="0.9" height="0.9" fill="#b8b0a0" opacity="0.76"/>
<rect x="74.1" y="775.4" width="0.9" height="0.9" fill="#c0b8a8" opacity="0.56"/>
<rect x="58.5" y="768.4" width="0.9" height="0.9" fill="#b8b0a0" opacity="0.64"/>
<rect x="66.3" y="771.2" width="0.9" height="0.9" fill="#9aa0d0" opacity="0.74"/>
<rect x="70.4" y="777.1" width="0.9" height="0.9" fill="#b8b0a0" opacity="0.76"/>
<rect x="58.0" y="777.9" width="0.9" height="0.9" fill="#8088c8" opacity="0.63"/>
<rect x="112.8" y="766.0" width="0.9" height="0.9" fill="#c0b8a8" opacity="0.67"/>
<rect x="55.7" y="779.8" width="0.9" height="0.9" fill="#a09ab8" opacity="0.46"/>
<rect x="123.2" y="777.1" width="0.9" height="0.9" fill="#9aa0d0" opacity="0.39"/>
<rect x="125.1" y="778.8" width="0.9" height="0.9" fill="#9aa0d0" opacity="0.40"/>
<rect x="92.1" y="774.8" width="0.9" height="0.9" fill="#b8b0a0" opacity="0.50"/>
<rect x="119.8" y="763.0" width="0.9" height="0.9" fill="#b8b0a0" opacity="0.60"/>
<rect x="72.5" y="760.4" width="0.9" height="0.9" fill="#9aa0d0" opacity="0.49"/>
<rect x="69.1" y="762.5" width="0.9" height="0.9" fill="#a09ab8" opacity="0.36"/>
<rect x="124.2" y="764.3" width="0.9" height="0.9" fill="#8088c8" opacity="0.39"/>
<rect x="107.5" y="778.8" width="0.9" height="0.9" fill="#8088c8" opacity="0.73"/>
<rect x="118.0" y="779.9" width="0.9" height="0.9" fill="#b8b0a0" opacity="0.66"/>
<rect x="113.5" y="770.5" width="0.9" height="0.9" fill="#b8b0a0" opacity="0.72"/>
<rect x="114.4" y="779.2" width="0.9" height="0.9" fill="#b8b0a0" opacity="0.72"/>
<rect x="82.3" y="764.7" width="0.9" height="0.9" fill="#9aa0d0" opacity="0.65"/>
<rect x="125.3" y="779.7" width="0.9" height="0.9" fill="#c0b8a8" opacity="0.39"/>
<rect x="96.7" y="769.6" width="0.9" height="0.9" fill="#c0b8a8" opacity="0.73"/>
<rect x="69.1" y="775.4" width="0.9" height="0.9" fill="#8088c8" opacity="0.67"/>
<rect x="78.8" y="762.2" width="0.9" height="0.9" fill="#9aa0d0" opacity="0.72"/>
<rect x="58.5" y="761.7" width="0.9" height="0.9" fill="#a09ab8" opacity="0.37"/>
<rect x="93.8" y="779.6" width="0.9" height="0.9" fill="#b8b0a0" opacity="0.62"/>
<rect x="56.5" y="761.1" width="0.9" height="0.9" fill="#a09ab8" opacity="0.62"/>
<rect x="94.0" y="767.4" width="0.9" height="0.9" fill="#c0b8a8" opacity="0.73"/>
<rect x="59.7" y="772.4" width="0.9" height="0.9" fill="#a09ab8" opacity="0.78"/>
<rect x="64.8" y="761.1" width="0.9" height="0.9" fill="#a09ab8" opacity="0.68"/>
<rect x="55.6" y="774.2" width="0.9" height="0.9" fill="#b8b0a0" opacity="0.54"/>
<rect x="58.6" y="764.3" width="0.9" height="0.9" fill="#a09ab8" opacity="0.38"/>
<rect x="73.5" y="768.5" width="0.9" height="0.9" fill="#8088c8" opacity="0.58"/>
<rect x="53.9" y="760.6" width="0.9" height="0.9" fill="#9aa0d0" opacity="0.44"/>
<rect x="77.7" y="775.4" width="0.9" height="0.9" fill="#b8b0a0" opacity="0.43"/>
<rect x="101.2" y="780.9" width="0.9" height="0.9" fill="#8088c8" opacity="0.70"/>
</g>
<rect x="52.60" y="778.50" width="7.60" height="1.30" fill="#f4f4f4" />
<text x="56.40" y="777.10" font-size="2.6" text-anchor="middle" font-weight="normal" fill="#e8e8e8" >50μm</text>
<clipPath id="c01"><rect x="127.40" y="704.70" width="74.30" height="77.00"/></clipPath>
<rect x="127.40" y="704.70" width="74.30" height="77.00" fill="#020203" />
<g clip-path="url(#c01)">
<ellipse cx="181.6" cy="727.8" rx="1.2" ry="3" fill="#8a2020" opacity="0.6" filter="url(#b2)"/>
</g>
<rect x="129.00" y="778.50" width="7.60" height="1.30" fill="#f4f4f4" />
<text x="132.80" y="777.10" font-size="2.6" text-anchor="middle" font-weight="normal" fill="#e8e8e8" >50μm</text>
<clipPath id="c02"><rect x="204.40" y="704.70" width="73.40" height="77.00"/></clipPath>
<rect x="204.40" y="704.70" width="73.40" height="77.00" fill="#020203" />
<g clip-path="url(#c02)">
<path d="M206.6,717.8 Q219.1,714.7 222.8,732.4" fill="none" stroke="#1f5a22" stroke-width="6" opacity="0.7" filter="url(#b1)"/>
<path d="M252.8,716.2 Q259.4,720.1 259.4,734.0" fill="none" stroke="#1f5a22" stroke-width="6" opacity="0.7" filter="url(#b1)"/>
<path d="M208.1,717.8 Q218.3,715.5 222.0,729.3" fill="none" stroke="#44a048" stroke-width="2.0" opacity="0.7" filter="url(#b2)"/>
<path d="M253.6,717.0 Q258.7,720.1 259.1,730.9" fill="none" stroke="#44a048" stroke-width="2.0" opacity="0.7" filter="url(#b2)"/>
<path d="M223.5,721.6 Q227.9,727.8 228.6,737.0" fill="none" stroke="#2b5f2e" stroke-width="2" opacity="0.7" filter="url(#b2)"/>
<path d="M261.7,724.0 Q267.5,729.3 269.0,737.0" fill="none" stroke="#2b5f2e" stroke-width="2" opacity="0.6" filter="url(#b2)"/>
<ellipse cx="274.6" cy="780.2" rx="4.3" ry="1.7" fill="#1d4a20" opacity="0.25" filter="url(#b1)"/>
<ellipse cx="258.4" cy="772.0" rx="5.5" ry="2.7" fill="#1d4a20" opacity="0.21" filter="url(#b1)"/>
<ellipse cx="247.1" cy="757.1" rx="6.2" ry="2.3" fill="#1d4a20" opacity="0.23" filter="url(#b1)"/>
<ellipse cx="277.4" cy="780.2" rx="6.7" ry="2.4" fill="#1d4a20" opacity="0.16" filter="url(#b1)"/>
<ellipse cx="207.0" cy="753.2" rx="6.3" ry="2.1" fill="#1d4a20" opacity="0.18" filter="url(#b1)"/>
<ellipse cx="269.9" cy="767.8" rx="6.8" ry="2.0" fill="#1d4a20" opacity="0.12" filter="url(#b1)"/>
<ellipse cx="228.3" cy="756.4" rx="6.6" ry="3.5" fill="#1d4a20" opacity="0.22" filter="url(#b1)"/>
<ellipse cx="217.7" cy="778.6" rx="8.0" ry="3.0" fill="#1d4a20" opacity="0.26" filter="url(#b1)"/>
<ellipse cx="260.4" cy="775.5" rx="5.8" ry="3.5" fill="#1d4a20" opacity="0.26" filter="url(#b1)"/>
<ellipse cx="216.2" cy="774.5" rx="7.6" ry="2.4" fill="#1d4a20" opacity="0.20" filter="url(#b1)"/>
<ellipse cx="240.4" cy="779.5" rx="6.5" ry="3.2" fill="#1d4a20" opacity="0.17" filter="url(#b1)"/>
<ellipse cx="269.2" cy="778.8" rx="6.3" ry="2.6" fill="#1d4a20" opacity="0.26" filter="url(#b1)"/>
<ellipse cx="257.5" cy="766.7" rx="5.1" ry="2.1" fill="#1d4a20" opacity="0.22" filter="url(#b1)"/>
<ellipse cx="216.6" cy="779.0" rx="5.3" ry="3.3" fill="#1d4a20" opacity="0.17" filter="url(#b1)"/>
</g>
<rect x="206.00" y="778.50" width="7.60" height="1.30" fill="#f4f4f4" />
<text x="209.80" y="777.10" font-size="2.6" text-anchor="middle" font-weight="normal" fill="#e8e8e8" >50μm</text>
<clipPath id="c03"><rect x="280.50" y="704.70" width="73.50" height="77.00"/></clipPath>
<rect x="280.50" y="704.70" width="73.50" height="77.00" fill="#020203" />
<g clip-path="url(#c03)">
<polygon points="280.5,738.6 286.4,735.5 293.7,733.2 300.3,737.0 304.0,750.9 307.7,737.0 315.8,732.4 323.1,734.7 328.6,750.9 332.7,737.0 341.5,733.2 348.9,736.3 354.0,737.8 354.0,755.5 345.2,757.8 336.4,754.8 327.5,758.2 317.2,755.5 307.0,758.2 298.1,754.8 289.3,758.2 280.5,756.3" fill="#1a2260" opacity="0.56" filter="url(#b1)"/>
<polygon points="280.5,738.6 286.4,735.5 293.7,733.2 300.3,737.0 304.0,750.9 307.7,737.0 315.8,732.4 323.1,734.7 328.6,750.9 332.7,737.0 341.5,733.2 348.9,736.3 354.0,737.8 354.0,755.5 345.2,757.8 336.4,754.8 327.5,758.2 317.2,755.5 307.0,758.2 298.1,754.8 289.3,758.2 280.5,756.3" fill="#fff" filter="url(#nzB0)"/>
<path d="M354.0,754.4 L345.2,756.7 L336.4,753.6 L327.5,757.1 L317.2,754.4 L307.0,757.1 L298.1,753.6 L289.3,757.1 L280.5,755.1" fill="none" stroke="#4252b8" stroke-width="1.1" opacity="0.7" filter="url(#b2)"/>
<path d="M300.3,737.0 L304.0,750.9 L307.7,737.0" fill="none" stroke="#3a48a8" stroke-width="0.9" opacity="0.5" filter="url(#b2)"/>
<path d="M323.1,734.7 L328.6,750.9 L332.7,737.0" fill="none" stroke="#3a48a8" stroke-width="0.9" opacity="0.5" filter="url(#b2)"/>
<rect x="280.5" y="758.2" width="73.5" height="23.5" fill="#fff" filter="url(#nzS)"/>
<rect x="298.0" y="771.0" width="0.9" height="0.9" fill="#c0b8a8" opacity="0.76"/>
<rect x="315.3" y="771.9" width="0.9" height="0.9" fill="#b8b0a0" opacity="0.36"/>
<rect x="342.1" y="764.3" width="0.9" height="0.9" fill="#a09ab8" opacity="0.44"/>
<rect x="333.2" y="770.9" width="0.9" height="0.9" fill="#b8b0a0" opacity="0.56"/>
<rect x="327.5" y="761.8" width="0.9" height="0.9" fill="#a09ab8" opacity="0.74"/>
<rect x="319.0" y="775.6" width="0.9" height="0.9" fill="#8088c8" opacity="0.42"/>
<rect x="350.9" y="759.2" width="0.9" height="0.9" fill="#8088c8" opacity="0.72"/>
<rect x="300.3" y="772.2" width="0.9" height="0.9" fill="#9aa0d0" opacity="0.67"/>
<rect x="348.2" y="767.5" width="0.9" height="0.9" fill="#b8b0a0" opacity="0.55"/>
<rect x="349.3" y="778.9" width="0.9" height="0.9" fill="#8088c8" opacity="0.37"/>
<rect x="316.9" y="764.3" width="0.9" height="0.9" fill="#9aa0d0" opacity="0.70"/>
<rect x="343.4" y="768.1" width="0.9" height="0.9" fill="#9aa0d0" opacity="0.61"/>
<rect x="319.8" y="767.8" width="0.9" height="0.9" fill="#a09ab8" opacity="0.76"/>
<rect x="330.6" y="780.0" width="0.9" height="0.9" fill="#c0b8a8" opacity="0.80"/>
<rect x="329.8" y="762.0" width="0.9" height="0.9" fill="#c0b8a8" opacity="0.78"/>
<rect x="347.0" y="771.6" width="0.9" height="0.9" fill="#a09ab8" opacity="0.63"/>
<rect x="353.1" y="764.5" width="0.9" height="0.9" fill="#8088c8" opacity="0.38"/>
<rect x="343.3" y="781.5" width="0.9" height="0.9" fill="#8088c8" opacity="0.50"/>
<rect x="285.4" y="779.3" width="0.9" height="0.9" fill="#8088c8" opacity="0.48"/>
<rect x="337.0" y="778.7" width="0.9" height="0.9" fill="#8088c8" opacity="0.62"/>
<rect x="336.5" y="767.1" width="0.9" height="0.9" fill="#b8b0a0" opacity="0.50"/>
<rect x="345.2" y="781.2" width="0.9" height="0.9" fill="#b8b0a0" opacity="0.46"/>
<rect x="283.1" y="758.4" width="0.9" height="0.9" fill="#8088c8" opacity="0.62"/>
<rect x="282.8" y="762.9" width="0.9" height="0.9" fill="#9aa0d0" opacity="0.48"/>
<rect x="299.9" y="774.4" width="0.9" height="0.9" fill="#c0b8a8" opacity="0.49"/>
<rect x="351.0" y="779.3" width="0.9" height="0.9" fill="#9aa0d0" opacity="0.52"/>
<rect x="344.4" y="767.3" width="0.9" height="0.9" fill="#b8b0a0" opacity="0.66"/>
<rect x="288.0" y="781.1" width="0.9" height="0.9" fill="#b8b0a0" opacity="0.47"/>
<rect x="327.1" y="775.0" width="0.9" height="0.9" fill="#c0b8a8" opacity="0.55"/>
<rect x="299.5" y="765.3" width="0.9" height="0.9" fill="#c0b8a8" opacity="0.36"/>
<rect x="311.0" y="771.8" width="0.9" height="0.9" fill="#8088c8" opacity="0.52"/>
<rect x="323.8" y="761.3" width="0.9" height="0.9" fill="#c0b8a8" opacity="0.56"/>
<rect x="330.4" y="766.5" width="0.9" height="0.9" fill="#c0b8a8" opacity="0.68"/>
<rect x="282.1" y="759.6" width="0.9" height="0.9" fill="#8088c8" opacity="0.78"/>
<rect x="299.0" y="768.9" width="0.9" height="0.9" fill="#b8b0a0" opacity="0.62"/>
<rect x="293.5" y="762.6" width="0.9" height="0.9" fill="#c0b8a8" opacity="0.73"/>
<rect x="299.9" y="776.7" width="0.9" height="0.9" fill="#8088c8" opacity="0.70"/>
<rect x="282.5" y="771.6" width="0.9" height="0.9" fill="#a09ab8" opacity="0.49"/>
<rect x="296.9" y="777.1" width="0.9" height="0.9" fill="#a09ab8" opacity="0.50"/>
<rect x="330.3" y="773.5" width="0.9" height="0.9" fill="#8088c8" opacity="0.40"/>
<path d="M282.7,717.8 Q295.2,714.7 298.9,732.4" fill="none" stroke="#1f5a22" stroke-width="6" opacity="0.7" filter="url(#b1)"/>
<path d="M329.0,716.2 Q335.6,720.1 335.6,734.0" fill="none" stroke="#1f5a22" stroke-width="6" opacity="0.7" filter="url(#b1)"/>
<path d="M284.2,717.8 Q294.5,715.5 298.1,729.3" fill="none" stroke="#44a048" stroke-width="2.0" opacity="0.7" filter="url(#b2)"/>
<path d="M329.7,717.0 Q334.9,720.1 335.3,730.9" fill="none" stroke="#44a048" stroke-width="2.0" opacity="0.7" filter="url(#b2)"/>
<path d="M299.6,721.6 Q304.0,727.8 304.8,737.0" fill="none" stroke="#2b5f2e" stroke-width="2" opacity="0.7" filter="url(#b2)"/>
<path d="M337.8,724.0 Q343.7,729.3 345.2,737.0" fill="none" stroke="#2b5f2e" stroke-width="2" opacity="0.6" filter="url(#b2)"/>
<ellipse cx="304.2" cy="762.2" rx="8.2" ry="2.4" fill="#1d4a20" opacity="0.25" filter="url(#b1)"/>
<ellipse cx="292.9" cy="762.3" rx="7.3" ry="3.3" fill="#1d4a20" opacity="0.19" filter="url(#b1)"/>
<ellipse cx="297.0" cy="756.0" rx="6.6" ry="1.9" fill="#1d4a20" opacity="0.24" filter="url(#b1)"/>
<ellipse cx="342.1" cy="757.8" rx="5.4" ry="3.1" fill="#1d4a20" opacity="0.22" filter="url(#b1)"/>
<ellipse cx="339.8" cy="762.5" rx="4.6" ry="2.1" fill="#1d4a20" opacity="0.24" filter="url(#b1)"/>
<ellipse cx="300.4" cy="762.6" rx="6.1" ry="2.3" fill="#1d4a20" opacity="0.18" filter="url(#b1)"/>
<ellipse cx="348.2" cy="757.0" rx="4.0" ry="3.4" fill="#1d4a20" opacity="0.25" filter="url(#b1)"/>
<ellipse cx="353.0" cy="765.1" rx="8.8" ry="3.4" fill="#1d4a20" opacity="0.15" filter="url(#b1)"/>
<ellipse cx="335.3" cy="776.9" rx="7.3" ry="2.5" fill="#1d4a20" opacity="0.16" filter="url(#b1)"/>
<ellipse cx="305.6" cy="759.1" rx="4.3" ry="2.7" fill="#1d4a20" opacity="0.16" filter="url(#b1)"/>
<ellipse cx="340.0" cy="753.8" rx="8.5" ry="2.9" fill="#1d4a20" opacity="0.26" filter="url(#b1)"/>
<ellipse cx="346.4" cy="778.8" rx="6.9" ry="1.5" fill="#1d4a20" opacity="0.23" filter="url(#b1)"/>
<ellipse cx="293.1" cy="761.2" rx="7.3" ry="2.5" fill="#1d4a20" opacity="0.18" filter="url(#b1)"/>
<ellipse cx="349.5" cy="770.4" rx="5.7" ry="2.0" fill="#1d4a20" opacity="0.25" filter="url(#b1)"/>
</g>
<rect x="282.10" y="778.50" width="7.60" height="1.30" fill="#f4f4f4" />
<text x="285.90" y="777.10" font-size="2.6" text-anchor="middle" font-weight="normal" fill="#e8e8e8" >50μm</text>
<clipPath id="c10"><rect x="51.00" y="785.70" width="74.60" height="76.90"/></clipPath>
<rect x="51.00" y="785.70" width="74.60" height="76.90" fill="#020203" />
<g clip-path="url(#c10)">
<polygon points="51.0,816.5 62.2,811.8 73.4,814.9 84.6,810.3 95.8,813.4 106.9,808.8 118.1,813.4 125.6,811.8 125.6,831.8 51.0,831.8" fill="#fff" opacity="0.55" filter="url(#nzB1)"/>
<polygon points="51.0,830.3 58.5,828.0 65.9,825.7 73.4,828.8 77.1,842.6 81.6,828.8 89.8,824.2 97.3,827.2 101.7,842.6 106.2,828.0 114.4,824.2 121.1,827.2 125.6,828.8 125.6,847.2 116.6,850.3 107.7,847.2 98.7,850.7 88.3,847.2 77.9,850.7 68.9,847.2 60.0,850.7 51.0,847.2" fill="#1a2260" opacity="0.36" filter="url(#b1)"/>
<polygon points="51.0,830.3 58.5,828.0 65.9,825.7 73.4,828.8 77.1,842.6 81.6,828.8 89.8,824.2 97.3,827.2 101.7,842.6 106.2,828.0 114.4,824.2 121.1,827.2 125.6,828.8 125.6,847.2 116.6,850.3 107.7,847.2 98.7,850.7 88.3,847.2 77.9,850.7 68.9,847.2 60.0,850.7 51.0,847.2" fill="#fff" filter="url(#nzB1)"/>
<path d="M125.6,846.1 L116.6,849.1 L107.7,846.1 L98.7,849.5 L88.3,846.1 L77.9,849.5 L68.9,846.1 L60.0,849.5 L51.0,846.1" fill="none" stroke="#4252b8" stroke-width="1.1" opacity="0.55" filter="url(#b2)"/>
<path d="M73.4,828.8 L77.1,842.6 L81.6,828.8" fill="none" stroke="#3a48a8" stroke-width="0.9" opacity="0.5" filter="url(#b2)"/>
<path d="M97.3,827.2 L101.7,842.6 L106.2,828.0" fill="none" stroke="#3a48a8" stroke-width="0.9" opacity="0.5" filter="url(#b2)"/>
<rect x="51.0" y="850.7" width="74.6" height="11.9" fill="#fff" filter="url(#nzS)"/>
<rect x="93.6" y="855.8" width="0.9" height="0.9" fill="#b8b0a0" opacity="0.36"/>
<rect x="85.5" y="856.5" width="0.9" height="0.9" fill="#c0b8a8" opacity="0.64"/>
<rect x="63.0" y="856.9" width="0.9" height="0.9" fill="#c0b8a8" opacity="0.38"/>
<rect x="122.0" y="859.6" width="0.9" height="0.9" fill="#c0b8a8" opacity="0.37"/>
<rect x="115.2" y="857.9" width="0.9" height="0.9" fill="#9aa0d0" opacity="0.54"/>
<rect x="112.7" y="853.8" width="0.9" height="0.9" fill="#a09ab8" opacity="0.66"/>
<rect x="100.4" y="852.3" width="0.9" height="0.9" fill="#a09ab8" opacity="0.79"/>
<rect x="96.8" y="851.2" width="0.9" height="0.9" fill="#8088c8" opacity="0.46"/>
<rect x="65.5" y="861.5" width="0.9" height="0.9" fill="#b8b0a0" opacity="0.51"/>
<rect x="118.0" y="854.4" width="0.9" height="0.9" fill="#b8b0a0" opacity="0.55"/>
<rect x="86.1" y="858.5" width="0.9" height="0.9" fill="#c0b8a8" opacity="0.73"/>
<rect x="62.7" y="853.4" width="0.9" height="0.9" fill="#9aa0d0" opacity="0.46"/>
<rect x="53.4" y="854.3" width="0.9" height="0.9" fill="#b8b0a0" opacity="0.65"/>
<rect x="90.8" y="860.9" width="0.9" height="0.9" fill="#a09ab8" opacity="0.52"/>
<rect x="121.5" y="861.6" width="0.9" height="0.9" fill="#a09ab8" opacity="0.40"/>
<rect x="108.9" y="851.8" width="0.9" height="0.9" fill="#a09ab8" opacity="0.79"/>
<rect x="65.2" y="854.8" width="0.9" height="0.9" fill="#9aa0d0" opacity="0.55"/>
<rect x="101.8" y="852.4" width="0.9" height="0.9" fill="#b8b0a0" opacity="0.43"/>
<rect x="59.9" y="856.1" width="0.9" height="0.9" fill="#a09ab8" opacity="0.65"/>
<rect x="121.3" y="852.8" width="0.9" height="0.9" fill="#a09ab8" opacity="0.57"/>
<rect x="76.9" y="855.9" width="0.9" height="0.9" fill="#8088c8" opacity="0.60"/>
<rect x="54.3" y="861.4" width="0.9" height="0.9" fill="#a09ab8" opacity="0.39"/>
<rect x="84.4" y="857.6" width="0.9" height="0.9" fill="#9aa0d0" opacity="0.76"/>
<rect x="88.0" y="861.3" width="0.9" height="0.9" fill="#b8b0a0" opacity="0.80"/>
<rect x="71.3" y="856.4" width="0.9" height="0.9" fill="#9aa0d0" opacity="0.38"/>
<rect x="87.5" y="856.2" width="0.9" height="0.9" fill="#9aa0d0" opacity="0.41"/>
<rect x="91.4" y="854.8" width="0.9" height="0.9" fill="#9aa0d0" opacity="0.57"/>
<rect x="63.4" y="855.9" width="0.9" height="0.9" fill="#9aa0d0" opacity="0.72"/>
<rect x="116.1" y="855.9" width="0.9" height="0.9" fill="#8088c8" opacity="0.37"/>
<rect x="57.9" y="852.0" width="0.9" height="0.9" fill="#9aa0d0" opacity="0.73"/>
<rect x="110.6" y="852.3" width="0.9" height="0.9" fill="#9aa0d0" opacity="0.70"/>
<rect x="119.8" y="854.8" width="0.9" height="0.9" fill="#c0b8a8" opacity="0.75"/>
<rect x="103.1" y="855.7" width="0.9" height="0.9" fill="#b8b0a0" opacity="0.76"/>
<rect x="62.5" y="853.5" width="0.9" height="0.9" fill="#b8b0a0" opacity="0.36"/>
<rect x="65.6" y="861.5" width="0.9" height="0.9" fill="#b8b0a0" opacity="0.72"/>
<rect x="86.7" y="860.3" width="0.9" height="0.9" fill="#c0b8a8" opacity="0.55"/>
<rect x="115.1" y="859.2" width="0.9" height="0.9" fill="#8088c8" opacity="0.37"/>
<rect x="119.1" y="859.8" width="0.9" height="0.9" fill="#8088c8" opacity="0.79"/>
<rect x="72.3" y="858.7" width="0.9" height="0.9" fill="#a09ab8" opacity="0.51"/>
<rect x="80.9" y="860.1" width="0.9" height="0.9" fill="#c0b8a8" opacity="0.43"/>
</g>
<rect x="52.60" y="859.40" width="7.60" height="1.30" fill="#f4f4f4" />
<text x="56.40" y="858.00" font-size="2.6" text-anchor="middle" font-weight="normal" fill="#e8e8e8" >50μm</text>
<clipPath id="c11"><rect x="127.40" y="785.70" width="74.30" height="76.90"/></clipPath>
<rect x="127.40" y="785.70" width="74.30" height="76.90" fill="#020203" />
<g clip-path="url(#c11)">
</g>
<rect x="129.00" y="859.40" width="7.60" height="1.30" fill="#f4f4f4" />
<text x="132.80" y="858.00" font-size="2.6" text-anchor="middle" font-weight="normal" fill="#e8e8e8" >50μm</text>
<clipPath id="c12"><rect x="204.40" y="785.70" width="73.40" height="76.90"/></clipPath>
<rect x="204.40" y="785.70" width="73.40" height="76.90" fill="#020203" />
<g clip-path="url(#c12)">
<path d="M223.5,802.6 Q226.4,810.3 230.8,816.5" fill="none" stroke="#2f7a33" stroke-width="2.2" opacity="0.45" filter="url(#b1)"/>
<path d="M242.6,801.1 Q247.0,807.2 248.4,814.9" fill="none" stroke="#275f2a" stroke-width="2" opacity="0.4" filter="url(#b1)"/>
<path d="M263.1,804.2 Q267.5,808.8 270.5,816.5" fill="none" stroke="#2f7a33" stroke-width="2.2" opacity="0.45" filter="url(#b1)"/>
<path d="M205.9,813.4 Q210.3,816.5 214.7,822.6" fill="none" stroke="#1f4a22" stroke-width="2" opacity="0.6" filter="url(#b2)"/>
<ellipse cx="239.2" cy="846.8" rx="7.3" ry="1.8" fill="#1a3a1a" opacity="0.12" filter="url(#b1)"/>
<ellipse cx="231.9" cy="829.1" rx="8.1" ry="2.9" fill="#1a3a1a" opacity="0.21" filter="url(#b1)"/>
<ellipse cx="245.4" cy="847.0" rx="4.7" ry="2.4" fill="#1a3a1a" opacity="0.14" filter="url(#b1)"/>
<ellipse cx="270.9" cy="819.2" rx="8.1" ry="1.6" fill="#1a3a1a" opacity="0.22" filter="url(#b1)"/>
<ellipse cx="229.1" cy="835.1" rx="8.2" ry="1.5" fill="#1a3a1a" opacity="0.13" filter="url(#b1)"/>
<ellipse cx="271.6" cy="839.9" rx="4.5" ry="3.5" fill="#1a3a1a" opacity="0.26" filter="url(#b1)"/>
<ellipse cx="212.7" cy="836.0" rx="4.7" ry="2.1" fill="#1a3a1a" opacity="0.21" filter="url(#b1)"/>
<ellipse cx="216.4" cy="848.6" rx="4.3" ry="1.8" fill="#1a3a1a" opacity="0.24" filter="url(#b1)"/>
<ellipse cx="233.8" cy="835.8" rx="7.0" ry="2.5" fill="#1a3a1a" opacity="0.18" filter="url(#b1)"/>
<ellipse cx="206.6" cy="850.0" rx="8.8" ry="3.5" fill="#1a3a1a" opacity="0.22" filter="url(#b1)"/>
<ellipse cx="230.6" cy="833.2" rx="7.5" ry="2.8" fill="#1a3a1a" opacity="0.14" filter="url(#b1)"/>
<ellipse cx="221.6" cy="833.2" rx="6.6" ry="3.1" fill="#1a3a1a" opacity="0.20" filter="url(#b1)"/>
<ellipse cx="206.5" cy="854.4" rx="6.2" ry="2.5" fill="#1a3a1a" opacity="0.15" filter="url(#b1)"/>
<ellipse cx="235.8" cy="834.4" rx="7.9" ry="1.7" fill="#1a3a1a" opacity="0.20" filter="url(#b1)"/>
</g>
<rect x="206.00" y="859.40" width="7.60" height="1.30" fill="#f4f4f4" />
<text x="209.80" y="858.00" font-size="2.6" text-anchor="middle" font-weight="normal" fill="#e8e8e8" >50μm</text>
<clipPath id="c13"><rect x="280.50" y="785.70" width="73.50" height="76.90"/></clipPath>
<rect x="280.50" y="785.70" width="73.50" height="76.90" fill="#020203" />
<g clip-path="url(#c13)">
<polygon points="280.5,816.5 291.5,811.8 302.6,814.9 313.6,810.3 324.6,813.4 335.6,808.8 346.6,813.4 354.0,811.8 354.0,831.8 280.5,831.8" fill="#fff" opacity="0.55" filter="url(#nzB1)"/>
<polygon points="280.5,830.3 287.9,828.0 295.2,825.7 302.6,828.8 306.2,842.6 310.6,828.8 318.7,824.2 326.1,827.2 330.5,842.6 334.9,828.0 343.0,824.2 349.6,827.2 354.0,828.8 354.0,847.2 345.2,850.3 336.4,847.2 327.5,850.7 317.2,847.2 307.0,850.7 298.1,847.2 289.3,850.7 280.5,847.2" fill="#1a2260" opacity="0.44" filter="url(#b1)"/>
<polygon points="280.5,830.3 287.9,828.0 295.2,825.7 302.6,828.8 306.2,842.6 310.6,828.8 318.7,824.2 326.1,827.2 330.5,842.6 334.9,828.0 343.0,824.2 349.6,827.2 354.0,828.8 354.0,847.2 345.2,850.3 336.4,847.2 327.5,850.7 317.2,847.2 307.0,850.7 298.1,847.2 289.3,850.7 280.5,847.2" fill="#fff" filter="url(#nzB1)"/>
<path d="M354.0,846.1 L345.2,849.1 L336.4,846.1 L327.5,849.5 L317.2,846.1 L307.0,849.5 L298.1,846.1 L289.3,849.5 L280.5,846.1" fill="none" stroke="#4252b8" stroke-width="1.1" opacity="0.7" filter="url(#b2)"/>
<path d="M302.6,828.8 L306.2,842.6 L310.6,828.8" fill="none" stroke="#3a48a8" stroke-width="0.9" opacity="0.5" filter="url(#b2)"/>
<path d="M326.1,827.2 L330.5,842.6 L334.9,828.0" fill="none" stroke="#3a48a8" stroke-width="0.9" opacity="0.5" filter="url(#b2)"/>
<rect x="280.5" y="850.7" width="73.5" height="11.9" fill="#fff" filter="url(#nzS)"/>
<rect x="299.5" y="858.8" width="0.9" height="0.9" fill="#a09ab8" opacity="0.64"/>
<rect x="329.5" y="861.0" width="0.9" height="0.9" fill="#a09ab8" opacity="0.41"/>
<rect x="319.6" y="853.2" width="0.9" height="0.9" fill="#c0b8a8" opacity="0.36"/>
<rect x="289.8" y="858.8" width="0.9" height="0.9" fill="#8088c8" opacity="0.80"/>
<rect x="341.8" y="851.7" width="0.9" height="0.9" fill="#c0b8a8" opacity="0.72"/>
<rect x="335.2" y="862.0" width="0.9" height="0.9" fill="#c0b8a8" opacity="0.51"/>
<rect x="297.7" y="861.4" width="0.9" height="0.9" fill="#b8b0a0" opacity="0.60"/>
<rect x="312.1" y="855.0" width="0.9" height="0.9" fill="#9aa0d0" opacity="0.64"/>
<rect x="328.7" y="854.8" width="0.9" height="0.9" fill="#b8b0a0" opacity="0.71"/>
<rect x="352.9" y="858.9" width="0.9" height="0.9" fill="#b8b0a0" opacity="0.63"/>
<rect x="353.1" y="855.9" width="0.9" height="0.9" fill="#9aa0d0" opacity="0.59"/>
<rect x="302.1" y="852.8" width="0.9" height="0.9" fill="#c0b8a8" opacity="0.46"/>
<rect x="314.3" y="857.9" width="0.9" height="0.9" fill="#9aa0d0" opacity="0.75"/>
<rect x="322.9" y="857.2" width="0.9" height="0.9" fill="#b8b0a0" opacity="0.46"/>
<rect x="294.8" y="855.0" width="0.9" height="0.9" fill="#8088c8" opacity="0.54"/>
<rect x="326.7" y="856.2" width="0.9" height="0.9" fill="#8088c8" opacity="0.67"/>
<rect x="349.1" y="851.2" width="0.9" height="0.9" fill="#a09ab8" opacity="0.57"/>
<rect x="331.8" y="856.0" width="0.9" height="0.9" fill="#c0b8a8" opacity="0.42"/>
<rect x="310.9" y="861.0" width="0.9" height="0.9" fill="#c0b8a8" opacity="0.44"/>
<rect x="343.2" y="855.1" width="0.9" height="0.9" fill="#a09ab8" opacity="0.76"/>
<rect x="332.2" y="853.5" width="0.9" height="0.9" fill="#9aa0d0" opacity="0.45"/>
<rect x="325.9" y="857.6" width="0.9" height="0.9" fill="#b8b0a0" opacity="0.37"/>
<rect x="323.4" y="857.5" width="0.9" height="0.9" fill="#a09ab8" opacity="0.48"/>
<rect x="292.6" y="858.8" width="0.9" height="0.9" fill="#8088c8" opacity="0.76"/>
<rect x="292.8" y="855.8" width="0.9" height="0.9" fill="#b8b0a0" opacity="0.60"/>
<rect x="320.4" y="851.1" width="0.9" height="0.9" fill="#9aa0d0" opacity="0.72"/>
<rect x="327.9" y="857.0" width="0.9" height="0.9" fill="#a09ab8" opacity="0.80"/>
<rect x="289.4" y="854.3" width="0.9" height="0.9" fill="#c0b8a8" opacity="0.60"/>
<rect x="331.9" y="861.9" width="0.9" height="0.9" fill="#b8b0a0" opacity="0.52"/>
<rect x="341.8" y="850.7" width="0.9" height="0.9" fill="#c0b8a8" opacity="0.42"/>
<rect x="321.6" y="857.0" width="0.9" height="0.9" fill="#9aa0d0" opacity="0.45"/>
<rect x="295.7" y="860.2" width="0.9" height="0.9" fill="#9aa0d0" opacity="0.58"/>
<rect x="347.4" y="859.5" width="0.9" height="0.9" fill="#c0b8a8" opacity="0.54"/>
<rect x="341.1" y="853.2" width="0.9" height="0.9" fill="#9aa0d0" opacity="0.61"/>
<rect x="306.6" y="853.6" width="0.9" height="0.9" fill="#c0b8a8" opacity="0.54"/>
<rect x="327.6" y="855.8" width="0.9" height="0.9" fill="#c0b8a8" opacity="0.53"/>
<rect x="286.9" y="859.7" width="0.9" height="0.9" fill="#b8b0a0" opacity="0.76"/>
<rect x="328.5" y="854.3" width="0.9" height="0.9" fill="#9aa0d0" opacity="0.57"/>
<rect x="321.3" y="854.6" width="0.9" height="0.9" fill="#c0b8a8" opacity="0.59"/>
<rect x="350.4" y="852.4" width="0.9" height="0.9" fill="#8088c8" opacity="0.40"/>
<path d="M299.6,802.6 Q302.6,810.3 307.0,816.5" fill="none" stroke="#2f7a33" stroke-width="2.2" opacity="0.45" filter="url(#b1)"/>
<path d="M318.7,801.1 Q323.1,807.2 324.6,814.9" fill="none" stroke="#275f2a" stroke-width="2" opacity="0.4" filter="url(#b1)"/>
<path d="M339.3,804.2 Q343.7,808.8 346.6,816.5" fill="none" stroke="#2f7a33" stroke-width="2.2" opacity="0.45" filter="url(#b1)"/>
<path d="M282.0,813.4 Q286.4,816.5 290.8,822.6" fill="none" stroke="#1f4a22" stroke-width="2" opacity="0.6" filter="url(#b2)"/>
<ellipse cx="341.0" cy="826.5" rx="5.5" ry="2.3" fill="#1a3a1a" opacity="0.13" filter="url(#b1)"/>
<ellipse cx="289.9" cy="833.1" rx="6.2" ry="3.3" fill="#1a3a1a" opacity="0.27" filter="url(#b1)"/>
<ellipse cx="283.7" cy="841.1" rx="4.6" ry="3.1" fill="#1a3a1a" opacity="0.17" filter="url(#b1)"/>
<ellipse cx="346.1" cy="841.6" rx="4.6" ry="1.5" fill="#1a3a1a" opacity="0.16" filter="url(#b1)"/>
<ellipse cx="344.3" cy="823.4" rx="6.4" ry="2.2" fill="#1a3a1a" opacity="0.17" filter="url(#b1)"/>
<ellipse cx="339.4" cy="826.3" rx="7.6" ry="2.8" fill="#1a3a1a" opacity="0.26" filter="url(#b1)"/>
<ellipse cx="318.7" cy="858.9" rx="6.2" ry="2.6" fill="#1a3a1a" opacity="0.21" filter="url(#b1)"/>
<ellipse cx="342.2" cy="857.9" rx="4.6" ry="1.8" fill="#1a3a1a" opacity="0.20" filter="url(#b1)"/>
<ellipse cx="340.2" cy="841.1" rx="5.5" ry="3.4" fill="#1a3a1a" opacity="0.16" filter="url(#b1)"/>
<ellipse cx="286.9" cy="818.9" rx="4.2" ry="3.0" fill="#1a3a1a" opacity="0.14" filter="url(#b1)"/>
<ellipse cx="333.1" cy="856.4" rx="9.0" ry="3.1" fill="#1a3a1a" opacity="0.18" filter="url(#b1)"/>
<ellipse cx="326.2" cy="854.9" rx="7.6" ry="2.1" fill="#1a3a1a" opacity="0.23" filter="url(#b1)"/>
<ellipse cx="288.5" cy="830.7" rx="9.0" ry="2.4" fill="#1a3a1a" opacity="0.16" filter="url(#b1)"/>
<ellipse cx="338.2" cy="837.2" rx="4.0" ry="1.6" fill="#1a3a1a" opacity="0.16" filter="url(#b1)"/>
</g>
<rect x="282.10" y="859.40" width="7.60" height="1.30" fill="#f4f4f4" />
<text x="285.90" y="858.00" font-size="2.6" text-anchor="middle" font-weight="normal" fill="#e8e8e8" >50μm</text>
</svg>
</body></html>
